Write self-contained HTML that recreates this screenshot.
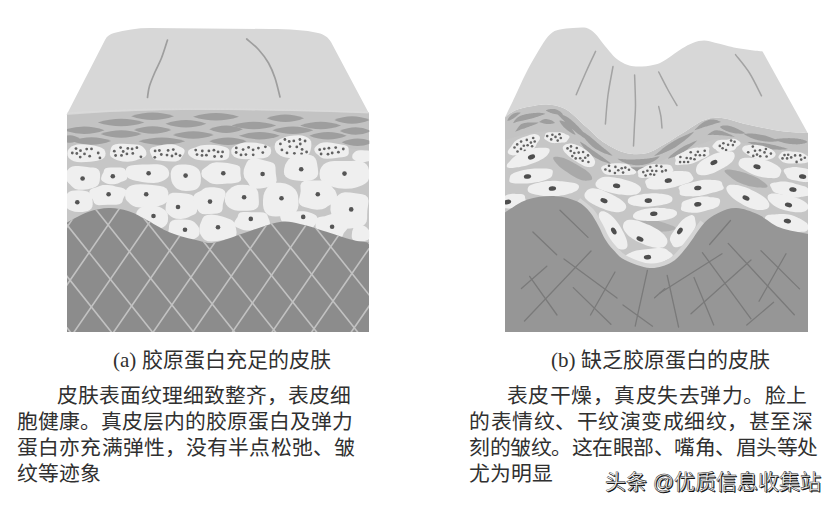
<!DOCTYPE html>
<html lang="zh-CN"><head><meta charset="utf-8"><title>skin</title>
<style>
html,body{margin:0;padding:0;background:#fff;}
body{width:837px;height:508px;position:relative;overflow:hidden;font-family:"Liberation Serif",serif;color:#303030;}
svg{position:absolute;left:0;top:0;filter:blur(0.45px);}
.t{position:absolute;white-space:nowrap;font-size:20.8px;line-height:26px;}
.cap{position:absolute;white-space:nowrap;font-size:21px;line-height:26px;}
.j{text-align:justify;text-align-last:justify;}
.wm{position:absolute;white-space:nowrap;font-family:"Liberation Sans",sans-serif;font-size:21px;color:#fff;line-height:24px;-webkit-text-stroke:0.45px #222;text-shadow:0.8px 0.9px 0.6px #111;}
</style></head><body>
<svg width="837" height="508" viewBox="0 0 837 508">
<defs>
<clipPath id="ca"><path d="M67,114.2 C100,111.3 150,109.3 200,109.3 C250,109.3 300,110.3 369.3,112.8 L369.3,332 L67,332Z"/></clipPath>
<clipPath id="cda"><path d="M66,332 L66,223  C69.7,221.2 80.8,214.5 88,212 C95.2,209.5 102.3,208.2 109,208 C115.7,207.8 122,209.2 128,211 C134,212.8 138,215.4 145,219 C152,222.6 161.2,228.9 170,232.5 C178.8,236.1 190.5,238.8 198,240.5 C205.5,242.2 206.3,244.1 215,242.5 C223.7,240.9 239.2,234.4 250,231 C260.8,227.6 271.7,223.2 280,222 C288.3,220.8 292.8,222.6 300,224 C307.2,225.4 314.2,228 323,230.7 C331.8,233.4 345.3,238 353,240 C360.7,242 366.3,242.1 369,242.5 L369,332 Z"/></clipPath>
</defs>
<g clip-path="url(#ca)">
<rect x="66.5" y="107" width="302.5" height="225" fill="#c6c6c6"/>
<path d="M66,107 L369,107 L369,150 C330,148 300,140 270,146 C240,150 200,150 150,150 L66,150 Z" fill="#c3c3c3"/>
<path d="M131.2,116.3 Q152.6,108.8 174,116.3 Q152.6,123.8 131.2,116.3Z" fill="#9e9e9e"/>
<path d="M193,116.8 Q216,109.3 239,116.8 Q216,124.3 193,116.8Z" fill="#9e9e9e"/>
<path d="M97.8,122.4 Q121.1,114.9 144.4,122.4 Q121.1,129.9 97.8,122.4Z" fill="#9e9e9e"/>
<path d="M165.4,123.7 Q185.9,116.2 206.4,123.7 Q185.9,131.2 165.4,123.7Z" fill="#9e9e9e"/>
<path d="M63.6,130.2 Q84.1,122.7 104.6,130.2 Q84.1,137.7 63.6,130.2Z" fill="#9e9e9e"/>
<path d="M133.9,129.9 Q152.6,122.4 171.3,129.9 Q152.6,137.4 133.9,129.9Z" fill="#9e9e9e"/>
<path d="M100.6,133.9 Q121.1,126.4 141.6,133.9 Q121.1,141.4 100.6,133.9Z" fill="#9e9e9e"/>
<path d="M172.8,134.9 Q193.3,127.4 213.8,134.9 Q193.3,142.4 172.8,134.9Z" fill="#9e9e9e"/>
<path d="M71.9,141 Q91.5,133.5 111.1,141 Q91.5,148.5 71.9,141Z" fill="#9e9e9e"/>
<path d="M138.6,141.3 Q161.9,133.8 185.2,141.3 Q161.9,148.8 138.6,141.3Z" fill="#9e9e9e"/>
<path d="M60,139 Q70,131.5 80,139 Q70,146.5 60,139Z" fill="#9e9e9e"/>
<path d="M266.7,118.2 Q285.4,110.7 304.1,118.2 Q285.4,125.7 266.7,118.2Z" fill="#9e9e9e"/>
<path d="M334.3,120 Q352,112.5 369.7,120 Q352,127.5 334.3,120Z" fill="#9e9e9e"/>
<path d="M231.5,125.6 Q253.9,118.1 276.3,125.6 Q253.9,133.1 231.5,125.6Z" fill="#9e9e9e"/>
<path d="M300.1,125.6 Q320.6,118.1 341.1,125.6 Q320.6,133.1 300.1,125.6Z" fill="#9e9e9e"/>
<path d="M209.3,129.3 Q226.1,121.8 242.9,129.3 Q226.1,136.8 209.3,129.3Z" fill="#9e9e9e"/>
<path d="M272.3,130.2 Q292.8,122.7 313.3,130.2 Q292.8,137.7 272.3,130.2Z" fill="#9e9e9e"/>
<path d="M339.8,131.1 Q355.7,123.6 371.6,131.1 Q355.7,138.6 339.8,131.1Z" fill="#9e9e9e"/>
<path d="M238.9,135.8 Q259.4,128.3 279.9,135.8 Q259.4,143.3 238.9,135.8Z" fill="#9e9e9e"/>
<path d="M309.3,135.8 Q328,128.3 346.7,135.8 Q328,143.3 309.3,135.8Z" fill="#9e9e9e"/>
<path d="M209.3,141.3 Q228,133.8 246.7,141.3 Q228,148.8 209.3,141.3Z" fill="#9e9e9e"/>
<path d="M341.7,142.3 Q357.6,134.8 373.5,142.3 Q357.6,149.8 341.7,142.3Z" fill="#9e9e9e"/>
<path d="M105.5,153.3 L105.3,155.7 L104.3,157.5 L102.6,158.9 L100.1,160 L97.2,160.7 L94,161.2 L90.5,161.7 L85.9,162 L81,162.2 L77,162 L73.8,161.3 L71.3,160.1 L69.6,158.8 L68.4,157.3 L67.6,155.6 L67.4,153.4 L67.7,151.1 L68.5,149.5 L69.8,148 L71.4,146.6 L73.8,145.4 L76.9,144.6 L80.8,144.2 L85.9,144.4 L90.6,144.9 L94,145.5 L96.9,146.2 L99.6,147 L102,148 L103.8,149.3 L105,151Z" fill="#efefef"/>
<path d="M146.4,152.4 L146.4,154.8 L145.3,156.6 L143.1,157.8 L140.5,158.7 L138,159.6 L135.5,160.5 L132.3,161.3 L127.6,161.7 L122.8,161.5 L119.4,160.8 L116.7,159.9 L114.4,158.9 L112.3,157.8 L110.7,156.4 L109.9,154.7 L110,152.4 L110.5,150.2 L110.9,148.5 L111.6,146.8 L113,145.2 L115.6,144.2 L119.1,143.7 L123,143.8 L127.6,144 L132,144.2 L135.4,144.4 L138.6,144.8 L141.2,145.7 L143,147 L144.4,148.4 L145.6,150.1Z" fill="#efefef"/>
<path d="M184.3,152.9 L183.2,154.9 L182.1,156.4 L181.3,157.8 L180.4,159.3 L178.6,160.6 L175.7,161.4 L171.9,161.5 L167.4,161.2 L163.1,160.9 L159.8,160.6 L156.8,160.2 L154.3,159.3 L152.8,158 L152,156.5 L151.3,155 L150.4,152.9 L149.7,150.7 L150.2,148.9 L152,147.5 L154.7,146.7 L157.5,146.1 L160.1,145.5 L163.1,144.8 L167.3,144.2 L172,144.2 L175.3,144.8 L177.8,145.7 L180,146.7 L182.1,147.7 L183.9,149 L184.7,150.7Z" fill="#efefef"/>
<path d="M229.4,153 L229.2,155 L229,156.6 L228.3,158.1 L226.3,159.5 L223.1,160.3 L219.1,160.6 L214.8,160.6 L209.7,160.6 L204.7,160.5 L200.7,160.3 L197.2,159.8 L194.5,158.9 L192.3,157.8 L190.4,156.6 L188.8,155.1 L187.9,153 L188.3,150.8 L190.1,149.3 L192.6,148.2 L195.2,147.4 L197.7,146.5 L200.6,145.6 L204.3,144.9 L209.7,144.7 L215.1,144.9 L219,145.5 L222.2,146.2 L225,147 L227.4,148.1 L228.9,149.4 L229.4,151Z" fill="#efefef"/>
<path d="M271.2,151.1 L270.8,153.2 L270,154.8 L268.5,156.3 L266.3,157.4 L263.3,158.2 L259.8,158.6 L256,158.9 L251.1,159.1 L246.1,159.2 L242,159 L238.5,158.5 L235.7,157.5 L233.7,156.3 L232.4,154.8 L231.5,153.2 L231.2,151.1 L231.6,148.9 L232.7,147.4 L234.5,146.1 L236.6,145 L239,144 L242,143.1 L245.8,142.6 L251.1,142.4 L256.2,142.8 L259.9,143.4 L262.9,144.1 L265.7,144.9 L268.1,146 L269.9,147.3 L270.9,148.9Z" fill="#efefef"/>
<path d="M311.2,146.9 L310.7,149.7 L310,151.9 L309,153.9 L307.4,155.7 L305.1,157.1 L302,158 L298.3,158.3 L293.7,158.3 L289.2,158.1 L285.7,157.5 L282.8,156.7 L280.2,155.5 L278.1,154 L276.4,152.2 L275.2,150 L274.6,146.9 L275,143.8 L276.4,141.6 L278.5,139.9 L280.9,138.7 L283.4,137.7 L286.1,136.7 L289.2,135.9 L293.7,135.4 L298.4,135.2 L302.1,135.6 L305.3,136.5 L307.9,137.8 L309.9,139.5 L311.1,141.6 L311.4,143.9Z" fill="#efefef"/>
<path d="M348.7,150.6 L348.8,152.7 L348.5,154.3 L347.3,155.7 L345,156.7 L342,157.3 L339,157.6 L335.9,158.1 L331.7,158.6 L327,158.8 L323.5,158.4 L321,157.5 L319.5,156.2 L318.3,155 L316.9,153.9 L315.4,152.6 L314.4,150.6 L314.4,148.5 L315.4,147 L316.7,145.7 L318.2,144.4 L320.2,143.2 L323.1,142.4 L327,142.3 L331.6,142.8 L335.6,143.5 L338.4,144.1 L341.2,144.4 L344.1,144.9 L346.6,145.7 L348.1,147 L348.6,148.6Z" fill="#efefef"/>
<path d="M372.2,156.1 L372.2,157.7 L372,158.9 L371.2,159.9 L370,160.7 L368.4,161.2 L366.8,161.6 L365,162.1 L362.5,162.3 L359.8,162.3 L357.9,161.9 L356.4,161.3 L355.2,160.5 L354.1,159.8 L353,158.9 L352.3,157.8 L352.2,156.2 L352.6,154.6 L353.4,153.5 L354.3,152.6 L355.1,151.7 L356.3,150.9 L357.9,150.4 L359.9,150.2 L362.5,150.2 L365,150.4 L367,150.5 L368.8,150.8 L370.4,151.4 L371.4,152.3 L371.9,153.4 L372,154.6Z" fill="#efefef"/>
<g fill="#626262"><circle cx="84.5" cy="153.9" r="1.4"/><circle cx="98.2" cy="153" r="1.4"/><circle cx="76.8" cy="153.5" r="1.4"/><circle cx="89.7" cy="156.2" r="1.4"/><circle cx="91.5" cy="148.9" r="1.4"/><circle cx="99.9" cy="157.9" r="1.4"/><circle cx="76" cy="148.6" r="1.4"/><circle cx="86.7" cy="149.1" r="1.4"/><circle cx="72.3" cy="153" r="1.4"/><circle cx="80.5" cy="150.7" r="1.4"/><circle cx="80.2" cy="157.1" r="1.4"/><circle cx="126.9" cy="153.9" r="1.4"/><circle cx="132.1" cy="148.9" r="1.4"/><circle cx="114.3" cy="151.2" r="1.4"/><circle cx="121.5" cy="155.4" r="1.4"/><circle cx="132.8" cy="153.4" r="1.4"/><circle cx="115.6" cy="155.5" r="1.4"/><circle cx="123.2" cy="151.5" r="1.4"/><circle cx="136.9" cy="147.7" r="1.4"/><circle cx="127.8" cy="148.4" r="1.4"/><circle cx="140.9" cy="156.8" r="1.4"/><circle cx="120.6" cy="147.6" r="1.4"/><circle cx="161.3" cy="154.5" r="1.4"/><circle cx="172" cy="156" r="1.4"/><circle cx="159.4" cy="150.5" r="1.4"/><circle cx="173.3" cy="149.6" r="1.4"/><circle cx="168.1" cy="150.4" r="1.4"/><circle cx="175.9" cy="153.9" r="1.4"/><circle cx="155.1" cy="150.9" r="1.4"/><circle cx="167" cy="155.1" r="1.4"/><circle cx="154.8" cy="157.3" r="1.4"/><circle cx="180" cy="155.6" r="1.4"/><circle cx="197" cy="154.6" r="1.4"/><circle cx="214.6" cy="156.5" r="1.4"/><circle cx="202.3" cy="151" r="1.4"/><circle cx="206.4" cy="155.2" r="1.4"/><circle cx="222.6" cy="151.9" r="1.4"/><circle cx="202" cy="155.4" r="1.4"/><circle cx="213.9" cy="150.2" r="1.4"/><circle cx="208.9" cy="150.9" r="1.4"/><circle cx="221.5" cy="156.5" r="1.4"/><circle cx="195.7" cy="150.1" r="1.4"/><circle cx="218.1" cy="151.9" r="1.4"/><circle cx="265.4" cy="146.8" r="1.4"/><circle cx="258.4" cy="148.1" r="1.4"/><circle cx="262.8" cy="152.6" r="1.4"/><circle cx="243.1" cy="149.6" r="1.4"/><circle cx="248.6" cy="147.4" r="1.4"/><circle cx="253.1" cy="149.8" r="1.4"/><circle cx="253.2" cy="154.8" r="1.4"/><circle cx="236.3" cy="147.9" r="1.4"/><circle cx="241" cy="154.9" r="1.4"/><circle cx="236.2" cy="152.5" r="1.4"/><circle cx="245.9" cy="154.6" r="1.4"/><circle cx="289.9" cy="146.6" r="1.4"/><circle cx="280.4" cy="143.9" r="1.4"/><circle cx="289.2" cy="141.5" r="1.4"/><circle cx="300.3" cy="144" r="1.4"/><circle cx="301.6" cy="153.8" r="1.4"/><circle cx="287" cy="152.9" r="1.4"/><circle cx="302.1" cy="149.4" r="1.4"/><circle cx="306.6" cy="152" r="1.4"/><circle cx="281.9" cy="149.9" r="1.4"/><circle cx="299.9" cy="139.5" r="1.4"/><circle cx="296.8" cy="146.9" r="1.4"/><circle cx="305.1" cy="141" r="1.4"/><circle cx="284.9" cy="139.5" r="1.4"/><circle cx="294.4" cy="153.3" r="1.4"/><circle cx="293.8" cy="140.9" r="1.4"/><circle cx="332.2" cy="153" r="1.4"/><circle cx="343.3" cy="149" r="1.4"/><circle cx="338.4" cy="152.2" r="1.4"/><circle cx="335.7" cy="147.6" r="1.4"/><circle cx="319.7" cy="149.7" r="1.4"/><circle cx="321.1" cy="154" r="1.4"/><circle cx="328" cy="154.2" r="1.4"/><circle cx="328.9" cy="148.2" r="1.4"/><circle cx="324.3" cy="148.8" r="1.4"/></g>
<path d="M100,177.6 L99.7,181 L99,183.4 L97.7,185.4 L95.8,186.8 L93.4,187.8 L90.8,188.5 L87.8,189.2 L83.2,189.8 L78.3,189.8 L75.2,189 L73.1,187.6 L71.5,186.1 L70.1,184.5 L68.5,183 L66.9,181 L65.8,177.6 L65.7,173.9 L66.5,171.4 L68,169.4 L69.8,167.8 L72.2,166.6 L75.2,166 L78.6,166.1 L83.1,166.6 L87.3,167.1 L90.2,167.4 L93.1,167.6 L96,168.1 L98.3,169.4 L99.6,171.4 L100.1,174Z" fill="#efefef"/>
<path d="M127.1,175.6 L127.2,177.9 L126.5,179.5 L125,180.5 L123.2,181.2 L121.5,181.8 L119.9,182.6 L117.9,183.6 L114.2,184.2 L110.1,184.3 L107.4,183.8 L105.4,183 L103.7,182.1 L102.2,181 L101.2,179.7 L101.1,177.9 L101.8,175.6 L102.8,173.6 L103.5,172.2 L103.8,170.9 L104.3,169.5 L105.6,168.3 L107.7,167.7 L110.4,167.5 L114.1,167.5 L117.9,167.5 L120.7,167.6 L123.1,168 L124.8,169 L125.7,170.3 L126.2,171.8 L126.6,173.4Z" fill="#efefef"/>
<path d="M169.2,173.2 L168.8,176 L167.5,177.8 L165.7,179.2 L163.6,180.5 L161.3,181.6 L158.1,182.6 L153.8,183 L147.7,182.7 L142,182.1 L138.6,181.3 L135.6,180.7 L132.7,180 L130,179.1 L127.8,177.8 L126.5,175.9 L125.9,173.2 L125.8,170.3 L126.3,168.2 L127.9,166.5 L130.8,165.4 L134.4,164.9 L138.3,164.7 L142.3,164.6 L147.6,164.4 L153.3,164.2 L157.5,164.2 L161,164.8 L163.7,165.8 L165.7,167.1 L167.4,168.6 L168.6,170.4Z" fill="#efefef"/>
<path d="M200.9,177.6 L200.8,181.3 L200.4,183.9 L199.5,186.1 L198,188 L195.9,189.4 L193.4,190.3 L190.3,190.8 L185.9,190.9 L181.6,190.5 L178.8,189.6 L176.7,188.4 L175,186.9 L173.7,185.3 L172.5,183.4 L171.5,181.1 L170.9,177.6 L170.7,173.8 L171.1,171.1 L172.1,168.8 L173.6,167 L175.7,165.6 L178.4,164.7 L181.5,164.4 L185.9,164.6 L190.1,165.1 L192.8,165.8 L195,166.8 L197,168 L198.6,169.5 L199.8,171.5 L200.5,173.9Z" fill="#efefef"/>
<path d="M240.4,173.5 L240.8,176.4 L241.2,178.8 L240.6,180.8 L238.4,182.3 L235,183.1 L231.3,183.4 L227.5,183.6 L222.2,184 L216.5,184.2 L212.6,183.8 L209.8,182.7 L207.8,181.3 L206,179.9 L204,178.5 L202.1,176.7 L201.3,173.5 L202,170.3 L203.9,168.5 L206,167.1 L207.8,165.7 L209.6,164.2 L212.3,162.9 L216.2,162.3 L222.1,162.5 L227.6,163.1 L231.2,163.8 L234.5,164.4 L237.4,165.2 L239.6,166.5 L240.4,168.4 L240.4,170.6Z" fill="#efefef"/>
<path d="M275.8,173.6 L276.4,177.4 L276.7,180.5 L275.9,183.1 L273.9,184.9 L271.2,186 L268.4,186.8 L265.2,187.8 L260.3,188.6 L255,188.7 L251.6,187.6 L249.6,185.6 L248.4,183.3 L247.3,181.4 L245.8,179.7 L244.3,177.4 L243.5,173.6 L243.8,169.7 L244.7,167.1 L245.7,164.8 L246.7,162.4 L248.3,160.2 L251.1,158.7 L255,158.5 L260.2,159.3 L264.8,160.5 L267.8,161.3 L270.6,161.9 L273.2,162.9 L274.9,164.7 L275.5,167.2 L275.6,169.9Z" fill="#efefef"/>
<path d="M317.8,168.2 L318.1,171.5 L318.1,174 L317.3,176.3 L315.8,178.1 L313.5,179.6 L310.5,180.5 L306.9,180.9 L301.6,181 L296.5,180.6 L293,180 L290.1,179.2 L287.6,178 L285.6,176.4 L284.3,174.3 L283.9,171.8 L284.3,168.2 L285.1,164.9 L286.3,162.8 L287.5,161 L288.8,159.3 L290.5,157.7 L292.9,156.2 L296.1,155 L301.6,154.4 L307.3,154.4 L311.1,155.2 L313.8,156.6 L315.4,158.5 L316.4,160.6 L316.9,162.8 L317.3,165Z" fill="#efefef"/>
<path d="M369.4,174.1 L369.1,178.3 L367.9,181.2 L365.7,183.3 L362.8,185 L359.7,186.3 L356.1,187.5 L351.7,188.4 L345,188.7 L338.3,188.2 L334,187.2 L330.7,185.9 L327.6,184.6 L324.6,183.2 L321.9,181.2 L320.1,178.5 L319.5,174.1 L320.1,169.7 L321.5,166.9 L323.5,164.5 L326.3,162.7 L329.9,161.6 L334.1,161.1 L338.7,161 L344.9,161 L351.2,160.9 L356.1,160.8 L360.5,161.2 L364.1,162.4 L366.6,164.4 L368.2,166.9 L369,169.9Z" fill="#efefef"/>
<path d="M92.6,201.2 L92.7,204.3 L92.4,206.6 L91.4,208.5 L89.8,209.9 L87.8,210.9 L85.4,211.5 L82.6,211.9 L78.7,212 L74.8,211.7 L72.3,211.1 L70.2,210.3 L68.4,209.3 L66.7,208.1 L65.3,206.5 L64.3,204.4 L64,201.2 L64.5,197.9 L65.3,195.8 L66.5,194.1 L68,192.7 L69.8,191.5 L72,190.8 L74.8,190.4 L78.7,190.3 L82.6,190.5 L85.3,190.9 L87.6,191.6 L89.4,192.7 L90.8,194.2 L91.6,196 L92.2,198.1Z" fill="#efefef"/>
<path d="M125.1,195.2 L123.7,197.8 L122.9,199.6 L122.5,201.4 L121.5,203.1 L119.3,204.2 L116.1,204.7 L112.5,204.7 L107.8,204.8 L102.7,205.1 L98.9,205.2 L95.9,204.5 L94.2,203 L93.5,201.2 L92.9,199.5 L91.6,197.9 L90,195.2 L89.2,192.1 L90,190 L92.2,188.6 L94.8,187.8 L97.2,186.9 L99.6,186 L102.7,185.1 L107.7,185 L112.6,185.5 L115.5,186.4 L118.1,187.1 L121,187.6 L123.9,188.4 L125.9,189.9 L126.2,192.1Z" fill="#efefef"/>
<path d="M168.4,195.7 L168.2,199 L167.3,201.2 L165.6,203 L163.2,204.4 L160.3,205.5 L156.9,206.4 L152.9,207.2 L146.7,207.7 L140.1,207.6 L135.8,206.9 L132.8,205.7 L130.5,204.2 L128.7,202.6 L127.1,200.9 L125.7,198.9 L125.1,195.7 L125.2,192.4 L125.9,190.2 L127.3,188.2 L129.2,186.5 L132,185.2 L135.7,184.4 L140.4,184.2 L146.6,184.5 L152.5,185 L156.6,185.4 L160.2,186 L163.5,186.8 L166,188.2 L167.5,190.1 L168.3,192.4Z" fill="#efefef"/>
<path d="M196.7,205.7 L197.2,209.3 L196.8,211.9 L195.3,213.9 L193.1,215.1 L190.8,216.1 L188.5,217.2 L185.7,218.3 L181.1,219 L176.2,218.8 L173.2,217.8 L171,216.4 L169.2,215 L167.5,213.5 L166.1,211.6 L165.5,209.2 L165.8,205.7 L166.5,202.3 L167.1,200.1 L167.5,197.8 L168.2,195.6 L169.9,193.7 L172.7,192.8 L176.3,192.7 L181,193.1 L185.5,193.6 L188.6,194 L191.3,194.7 L193.3,196 L194.5,197.9 L195.2,200 L195.9,202.3Z" fill="#efefef"/>
<path d="M223.8,200.7 L222.9,204 L222.7,206.5 L222.6,209 L221.8,211.2 L219.9,212.8 L217.2,213.5 L214.1,213.8 L209.9,214 L205.4,214.2 L202.3,213.9 L199.9,212.7 L198.3,210.9 L197.1,209 L195.8,207 L194.2,204.7 L193.1,200.7 L193.3,196.5 L194.9,194 L197.3,192.5 L199.5,191.6 L201.4,190.5 L203.2,189 L205.6,187.8 L209.8,187.2 L214.2,187.3 L217.3,187.7 L220.1,188.3 L222.8,189.2 L224.8,191 L225.6,193.6 L225,196.8Z" fill="#efefef"/>
<path d="M258.7,198.2 L258.9,201.8 L258.8,204.5 L258,206.9 L256.2,208.7 L253.7,209.9 L250.7,210.5 L247.3,210.7 L242.6,210.8 L237.9,210.7 L234.6,210.2 L232,209.3 L229.7,208 L227.8,206.5 L226.2,204.6 L225.1,202.1 L224.8,198.2 L225.5,194.4 L226.9,192.1 L228.5,190.3 L230.2,188.7 L232.1,187.3 L234.5,186 L237.6,185.1 L242.5,184.8 L247.5,185.1 L250.8,185.7 L253.5,186.7 L255.7,188.1 L257.2,190 L258.1,192.2 L258.5,194.7Z" fill="#efefef"/>
<path d="M298.5,200.2 L298.5,205.3 L297.8,208.8 L296.3,211.5 L294.1,213.5 L291.3,214.7 L288.3,215.3 L285.1,215.8 L280.5,216.2 L275.6,216.5 L272.1,216.3 L269,215.4 L266.6,213.7 L264.8,211.4 L263.6,208.5 L263,205.1 L263,200.2 L263.5,195.4 L264.5,192.3 L265.8,189.7 L267.3,187.4 L269.3,185.3 L271.8,183.7 L275.3,182.8 L280.4,182.8 L285.4,183.5 L288.5,184.7 L291,186.1 L293.3,187.7 L295.2,189.6 L296.8,192.1 L297.9,195.3Z" fill="#efefef"/>
<path d="M336.9,194.8 L337,199.3 L335.3,202.1 L332.6,203.8 L329.9,205 L327.7,206.3 L325.4,208 L322.2,209.3 L316.9,209.7 L311.6,209.1 L308.2,208.1 L305.2,207.2 L302.2,206.2 L299.8,204.6 L298.7,202 L299.1,198.8 L300.1,194.8 L300.7,191.1 L300.5,188.3 L300.4,185.3 L301.5,182.7 L304.1,181.1 L307.7,180.6 L311.6,180.6 L316.8,180.6 L322.1,180.6 L325.8,181 L328.5,182.3 L330.3,184.2 L331.6,186.3 L333.1,188.3 L335.2,190.6Z" fill="#efefef"/>
<path d="M367.4,210.1 L367.1,214.8 L367.1,218.3 L366.6,221.7 L365,224.3 L362.3,225.9 L359.1,226.9 L355.6,227.7 L350.3,228.5 L344.8,228.7 L341.1,227.6 L338.7,225.4 L337.2,222.8 L335.7,220.4 L333.8,218.2 L331.7,215.3 L330.4,210.1 L330.7,204.5 L332.3,201.2 L334.5,198.8 L336.6,196.8 L338.7,194.7 L341.4,193.1 L345,192.3 L350.3,192.6 L355.3,193.3 L358.8,193.8 L362.2,194.3 L365.5,195.3 L367.8,197.6 L368.6,201 L368.1,205.1Z" fill="#efefef"/>
<path d="M168.1,217.8 L167.8,221.4 L166.9,223.7 L165.5,225.6 L163.7,227 L161.5,228.1 L159,228.9 L155.9,229.3 L151.6,229.5 L147.1,229.5 L143.9,229.3 L141.1,228.6 L138.9,227.4 L137.3,225.7 L136.4,223.6 L136,221.2 L135.9,217.9 L136.1,214.5 L136.6,212.1 L137.7,210.2 L139.3,208.6 L141.3,207.3 L143.8,206.4 L146.9,205.8 L151.5,205.7 L156.1,206 L159,206.8 L161.3,207.8 L163.3,209 L165.1,210.3 L166.7,212.1 L167.7,214.3Z" fill="#efefef"/>
<path d="M199.6,230.7 L199.5,234 L198.5,236.1 L196.7,237.6 L194.7,238.7 L192.6,239.7 L190.4,240.7 L187.6,241.5 L183.1,241.9 L178.4,241.9 L175.1,241.5 L172.4,240.7 L170.2,239.6 L168.6,238 L167.9,236 L168,233.7 L168.5,230.7 L168.9,227.9 L169.1,225.8 L169.5,223.8 L170.4,222 L172.3,220.6 L175,219.7 L178.3,219.4 L183,219.4 L187.7,219.7 L190.7,220.3 L193,221.3 L194.8,222.6 L196.2,224.1 L197.5,225.6 L198.8,227.6Z" fill="#efefef"/>
<path d="M236,228.5 L236.6,232.3 L236.3,235.1 L234.7,237.2 L232,238.5 L228.7,239.2 L225.5,239.6 L222.3,240.3 L217.3,241.1 L211.7,241.6 L207.8,241.2 L204.9,240 L203,238.2 L201.6,236.3 L200.4,234.3 L199.5,232 L199.4,228.5 L199.9,225.1 L200.8,222.8 L201.6,220.7 L202.5,218.4 L204.1,216.3 L207.1,214.9 L211.3,214.6 L217.2,215.3 L222.3,216.5 L225.4,217.6 L228,218.5 L230.6,219.4 L232.7,220.8 L234.2,222.6 L235.2,225Z" fill="#efefef"/>
<path d="M269.5,220.8 L270,223.6 L269.2,225.4 L266.8,226.6 L263.9,227.1 L261.4,227.6 L259.2,228.4 L256.6,229.5 L251.9,230.4 L246.5,230.5 L243.1,229.9 L240.5,228.9 L238.2,227.9 L236,226.9 L234.2,225.5 L233.9,223.6 L234.9,220.9 L236.5,218.5 L237.6,217.1 L238,215.6 L238.5,213.9 L240.1,212.5 L243.1,211.9 L246.9,211.9 L251.8,212.2 L256.6,212.3 L260.2,212.2 L263.6,212.5 L266,213.5 L267.3,215 L267.8,216.6 L268.5,218.3Z" fill="#efefef"/>
<path d="M317.2,219.9 L316.4,222.5 L315.3,224.2 L314.3,225.7 L313.2,227.2 L311.2,228.5 L308.2,229.2 L304.3,229.2 L299.2,228.8 L294.5,228.3 L291.5,227.8 L288.8,227.3 L286.6,226.5 L285,225.3 L283.7,224 L282.5,222.4 L281.1,219.9 L280.2,217 L280.4,214.9 L282.2,213.4 L285,212.5 L288.1,212.1 L291.2,211.8 L294.5,211.4 L299.1,211.2 L303.9,211.3 L307.1,211.7 L309.6,212.5 L311.9,213.3 L314.1,214.2 L316.1,215.4 L317.2,217.2Z" fill="#efefef"/>
<path d="M348.4,226.3 L346.8,229.6 L345.1,231.5 L343.8,233.1 L343,234.9 L342,237 L339.9,238.7 L336.6,239.4 L331.7,239.2 L327,238.6 L323.8,238 L320.9,237.5 L318.3,236.5 L316.6,234.7 L315.9,232.4 L315.8,229.8 L315.6,226.3 L315.4,222.7 L315.6,220.1 L317,218.1 L319.5,217 L322.3,216.6 L324.9,216.2 L327.5,215.3 L331.6,214.1 L336.6,213.2 L340.3,213.4 L343.1,214.5 L345.1,216.1 L346.8,217.9 L348.2,219.9 L348.9,222.5Z" fill="#efefef"/>
<path d="M370,233.7 L370.1,236.1 L369.7,237.8 L368.9,239 L367.7,240 L366.3,240.5 L364.8,240.9 L363.1,241.1 L360.7,241.2 L358.2,241.3 L356.3,241.2 L354.7,240.9 L353.3,240.2 L352.4,239.1 L351.9,237.6 L351.7,235.9 L351.9,233.7 L352.2,231.5 L352.6,230 L353.1,228.7 L353.8,227.5 L354.7,226.5 L356.1,225.7 L357.9,225.2 L360.6,225.2 L363.3,225.5 L364.9,226.2 L366.1,227 L367.1,227.9 L368,228.9 L368.8,230 L369.6,231.4Z" fill="#efefef"/>
<g fill="#555"><circle cx="82.6" cy="178.5" r="2.3"/><circle cx="112.8" cy="176.2" r="2.3"/><circle cx="148.6" cy="173.2" r="2.3"/><circle cx="185.6" cy="175.6" r="2.3"/><circle cx="223.3" cy="173.2" r="2.3"/><circle cx="262.6" cy="174" r="2.3"/><circle cx="301.2" cy="169.3" r="2.3"/><circle cx="344.5" cy="173.6" r="2.3"/><circle cx="77.3" cy="202.2" r="2.3"/><circle cx="108.6" cy="194.3" r="2.3"/><circle cx="146.2" cy="194.3" r="2.3"/><circle cx="178" cy="207" r="2.3"/><circle cx="210" cy="201.6" r="2.3"/><circle cx="244.1" cy="197.2" r="2.3"/><circle cx="281.5" cy="198.2" r="2.3"/><circle cx="317.8" cy="194.3" r="2.3"/><circle cx="351.2" cy="209.4" r="2.3"/><circle cx="153.5" cy="216" r="2.3"/><circle cx="185" cy="229.7" r="2.3"/><circle cx="218" cy="227.2" r="2.3"/><circle cx="250.8" cy="218.9" r="2.3"/><circle cx="303.2" cy="216.9" r="2.3"/><circle cx="332.1" cy="226.8" r="2.3"/></g>
<path d="M66,332 L66,223  C69.7,221.2 80.8,214.5 88,212 C95.2,209.5 102.3,208.2 109,208 C115.7,207.8 122,209.2 128,211 C134,212.8 138,215.4 145,219 C152,222.6 161.2,228.9 170,232.5 C178.8,236.1 190.5,238.8 198,240.5 C205.5,242.2 206.3,244.1 215,242.5 C223.7,240.9 239.2,234.4 250,231 C260.8,227.6 271.7,223.2 280,222 C288.3,220.8 292.8,222.6 300,224 C307.2,225.4 314.2,228 323,230.7 C331.8,233.4 345.3,238 353,240 C360.7,242 366.3,242.1 369,242.5 L369,332 Z" fill="#8c8c8c"/>
<g clip-path="url(#cda)" stroke="#c2c2c2" stroke-width="1.6" fill="none">
<line x1="-125" y1="190" x2="-5.4" y2="340"/>
<line x1="-83.9" y1="190" x2="35.6" y2="340"/>
<line x1="-42.9" y1="190" x2="76.7" y2="340"/>
<line x1="-1.8" y1="190" x2="117.7" y2="340"/>
<line x1="39.2" y1="190" x2="158.8" y2="340"/>
<line x1="80.3" y1="190" x2="199.8" y2="340"/>
<line x1="121.3" y1="190" x2="240.9" y2="340"/>
<line x1="162.4" y1="190" x2="281.9" y2="340"/>
<line x1="203.4" y1="190" x2="323" y2="340"/>
<line x1="244.5" y1="190" x2="364" y2="340"/>
<line x1="285.5" y1="190" x2="405.1" y2="340"/>
<line x1="326.6" y1="190" x2="446.1" y2="340"/>
<line x1="367.6" y1="190" x2="487.2" y2="340"/>
<line x1="52.9" y1="190" x2="-50.2" y2="340"/>
<line x1="92.5" y1="190" x2="-10.6" y2="340"/>
<line x1="132.1" y1="190" x2="29" y2="340"/>
<line x1="171.7" y1="190" x2="68.6" y2="340"/>
<line x1="211.3" y1="190" x2="108.2" y2="340"/>
<line x1="250.9" y1="190" x2="147.8" y2="340"/>
<line x1="290.5" y1="190" x2="187.4" y2="340"/>
<line x1="330.1" y1="190" x2="227" y2="340"/>
<line x1="369.7" y1="190" x2="266.6" y2="340"/>
<line x1="409.3" y1="190" x2="306.2" y2="340"/>
<line x1="448.9" y1="190" x2="345.8" y2="340"/>
<line x1="488.5" y1="190" x2="385.4" y2="340"/>
<line x1="528.1" y1="190" x2="425" y2="340"/>
<line x1="567.7" y1="190" x2="464.6" y2="340"/>
</g>
</g>
<path d="M66.5,115 L105,40 C107,36 110,34 114,33 C125,30 137,28 150,28 L270,29 C290,29 305,30 318,33 C324,34.5 328,37 331,42 L369,113.5 C300,111 250,110 200,110 C150,110 100,112 66.5,115 Z" fill="#d7d7d7"/>
<path d="M67.5,113.3 C100,110.8 150,109 200,109 C250,109 300,110 368,112.3" stroke="#dadada" stroke-width="1.4" fill="none"/>
<path d="M167.5,40 C166.5,43 163.6,52.7 161.5,58 C159.4,63.3 157,67.3 155,72 C153,76.7 150.8,81.8 149.5,86 C148.2,90.2 147.8,95.6 147.5,97.5" stroke="#9e9e9e" stroke-width="1.7" fill="none" stroke-linecap="round"/>
<path d="M246.7,39 C248.7,40.8 254.9,45.5 258.5,49.5 C262.1,53.5 265.8,58.2 268.5,63 C271.2,67.8 273.1,72.3 275,78 C276.9,83.7 279.2,93.8 280,97" stroke="#9e9e9e" stroke-width="1.7" fill="none" stroke-linecap="round"/>
<defs><clipPath id="cdb"><path d="M505,332 L505,212.5  C508.8,210.3 519.1,202.2 527.5,199.5 C535.9,196.8 547.3,195.8 555.6,196.2 C563.9,196.5 571.5,198.9 577.3,201.6 C583.1,204.3 586.7,208.4 590.2,212.5 C593.7,216.6 596,221.6 598.5,226 C601,230.4 602.6,235.1 605,239 C607.4,242.9 609.7,246 613,249.5 C616.3,253 618.8,256.9 625,260 C631.2,263.1 642.2,267.6 650,268 C657.8,268.4 665.5,265.8 671.6,262.3 C677.7,258.8 681.4,253.5 686.8,247 C692.2,240.5 698.6,229.1 704,223.3 C709.4,217.6 713.9,215 719.3,212.5 C724.7,210 730.1,207.8 736.6,208.1 C743.1,208.4 751,211.3 758.2,214.6 C765.4,217.8 771.6,224.4 779.9,227.6 C788.2,230.8 803.3,232.9 808,234 L808,332 Z"/></clipPath><clipPath id="cb"><path d="M505,117.5 C506.7,116.3 510.8,112.3 515,110.5 C519.2,108.7 524.7,107.5 530,106.5 C535.3,105.5 541,104 547,104.5 C553,105 559.5,105.8 566,109.5 C572.5,113.2 579.8,121.4 586,126.8 C592.2,132.2 596.5,137.7 603,142 C609.5,146.3 617.8,150.9 625,152.8 C632.2,154.7 639.8,154.7 646.5,153.2 C653.2,151.7 659,147.3 665,144 C671,140.7 676,137.2 682.5,133.3 C689,129.4 697.5,122.8 704,120.3 C710.5,117.8 714.2,117.3 721.4,118 C728.6,118.7 737.6,122.4 747.4,124.6 C757.2,126.8 769.9,129.6 780,131 C790.1,132.4 803.3,132.7 808,133 L808,332 L505,332Z"/></clipPath></defs>
<g clip-path="url(#cb)">
<rect x="505" y="100" width="303" height="232" fill="#c6c6c6"/>
<path d="M505,117.5 C506.7,116.3 510.8,112.3 515,110.5 C519.2,108.7 524.7,107.5 530,106.5 C535.3,105.5 541,104 547,104.5 C553,105 559.5,105.8 566,109.5 C572.5,113.2 579.8,121.4 586,126.8 C592.2,132.2 596.5,137.7 603,142 C609.5,146.3 617.8,150.9 625,152.8 C632.2,154.7 639.8,154.7 646.5,153.2 C653.2,151.7 659,147.3 665,144 C671,140.7 676,137.2 682.5,133.3 C689,129.4 697.5,122.8 704,120.3 C710.5,117.8 714.2,117.3 721.4,118 C728.6,118.7 737.6,122.4 747.4,124.6 C757.2,126.8 769.9,129.6 780,131 C790.1,132.4 803.3,132.7 808,133 L808,153 L770,149 L740,142 L715,139 L695,146 L672,156 L650,166 L625,166 L600,160 L580,150 L560,137 L545,131 L525,134 L505,140Z" fill="#c3c3c3"/>
<path d="M513.1,123.2 L513.3,122.7 L513.5,122.3 L513.8,121.9 L514,121.4 L514.3,121 L514.6,120.6 L514.9,120.2 L515.2,119.9 L515.5,119.5 L515.9,119.1 L516.2,118.8 L516.5,118.5 L516.8,118.1 L517.1,117.9 L517.4,117.6 L517.7,117.4 L518,117.1 L518.3,116.9 L518.7,116.7 L519.1,116.5 L519.5,116.2 L520,116 L520.5,115.8 L521,115.6 L521.5,115.4 L522,115.2 L522.6,115 L523.1,114.9 L523.7,114.7 L524.3,114.5 L524.9,114.4 L525.5,114.3 L526.1,114.1 L526.7,114 L527.4,113.9 L528,113.8 L528.7,113.7 L529.3,113.6 L530,113.5 L530.6,113.4 L531.3,113.3 L532,113.2 L532.7,113.2 L533.4,113.1 L534.1,113 L534.8,113 L535.5,112.9 L536.2,112.9 L536.8,112.8 L537.5,112.8 L538.2,112.8 L538.8,112.8 L539.5,112.8 L540.1,112.8 L540.7,112.9 L541.3,112.9 L541.9,113 L542.5,113.1 L543.1,113.2 L543.6,113.3 L544.2,113.5 L544.7,113.6 L545.3,113.9 L545.3,113.9 L544.7,114.2 L544.2,114.3 L543.7,114.5 L543.2,114.7 L542.6,114.9 L542.1,115.1 L541.6,115.3 L541,115.5 L540.5,115.7 L539.9,115.9 L539.4,116.1 L538.8,116.3 L538.2,116.5 L537.6,116.7 L537,116.9 L536.3,117.1 L535.7,117.3 L535,117.5 L534.3,117.7 L533.7,118 L532.9,118.2 L532.2,118.3 L531.6,118.5 L531,118.7 L530.3,118.8 L529.7,119 L529.1,119.1 L528.5,119.3 L527.9,119.4 L527.3,119.6 L526.7,119.7 L526.2,119.8 L525.6,120 L525.1,120.1 L524.5,120.2 L524,120.3 L523.5,120.4 L523,120.6 L522.5,120.7 L522.1,120.8 L521.6,120.8 L521.2,120.9 L520.8,121 L520.4,121.1 L520.1,121.2 L519.8,121.2 L519.5,121.2 L519.3,121.3 L519,121.3 L518.7,121.4 L518.4,121.5 L518,121.6 L517.6,121.7 L517.2,121.8 L516.8,122 L516.3,122.1 L515.9,122.3 L515.4,122.5 L515,122.6 L514.5,122.8 L514.1,123 L513.6,123.1 L513.1,123.2Z M515.3,131.7 L515.5,131.2 L515.9,130.6 L516.3,130.1 L516.6,129.7 L516.8,129.3 L517.1,128.9 L517.4,128.5 L517.6,128.1 L517.9,127.7 L518.2,127.4 L518.4,127 L518.7,126.7 L519,126.3 L519.2,126 L519.5,125.7 L519.7,125.5 L520,125.2 L520.2,125 L520.4,124.8 L520.6,124.6 L520.8,124.4 L520.9,124.3 L521,124.2 L521.1,124.2 L521.3,124.1 L521.5,123.9 L521.8,123.8 L522.2,123.7 L522.5,123.6 L522.9,123.4 L523.4,123.3 L523.8,123.2 L524.3,123.1 L524.7,123 L525.2,122.9 L525.8,122.8 L526.3,122.8 L526.8,122.7 L527.4,122.6 L528,122.6 L528.6,122.5 L529.2,122.5 L529.8,122.5 L530.4,122.4 L531,122.4 L531.7,122.4 L532.3,122.4 L533,122.4 L533.8,122.4 L534.5,122.4 L535.3,122.4 L536,122.4 L536.7,122.4 L537.4,122.4 L538.1,122.5 L538.8,122.6 L538.8,122.6 L538.1,123 L537.6,123.3 L536.9,123.6 L536.3,123.9 L535.6,124.2 L534.9,124.5 L534.2,124.7 L533.5,125 L532.9,125.2 L532.3,125.5 L531.7,125.7 L531.1,125.9 L530.5,126.1 L530,126.3 L529.4,126.5 L528.9,126.7 L528.4,126.9 L527.9,127.1 L527.4,127.3 L526.9,127.5 L526.5,127.6 L526,127.8 L525.6,128 L525.2,128.1 L524.9,128.2 L524.5,128.4 L524.2,128.5 L523.9,128.6 L523.7,128.7 L523.4,128.7 L523.2,128.8 L523.1,128.8 L523.2,128.8 L523.2,128.7 L523.1,128.7 L523,128.7 L522.9,128.7 L522.7,128.8 L522.4,128.9 L522.2,129 L521.9,129.1 L521.6,129.2 L521.2,129.3 L520.9,129.5 L520.5,129.6 L520.1,129.8 L519.7,130 L519.3,130.2 L518.9,130.3 L518.5,130.5 L518,130.7 L517.5,130.9 L517,131.1 L516.5,131.3 L515.8,131.6 L515.3,131.7Z M539.1,122 L539.7,121.5 L540.2,121.2 L540.7,120.9 L541.2,120.6 L541.7,120.3 L542.1,120.1 L542.6,119.8 L543,119.6 L543.4,119.5 L543.9,119.3 L544.3,119.2 L544.7,119.1 L545,119.1 L545.4,119.1 L545.9,119.1 L546.5,119.1 L547.2,119.2 L547.8,119.3 L548.5,119.4 L549.1,119.5 L549.7,119.7 L550.3,119.9 L550.8,120.1 L551.4,120.3 L551.9,120.5 L552.4,120.8 L552.8,121.1 L553.3,121.4 L553.7,121.7 L554.1,122.1 L554.5,122.5 L555,123.1 L555,123.1 L554.2,123.2 L553.7,123.3 L553.2,123.5 L552.8,123.6 L552.3,123.7 L551.8,123.7 L551.3,123.8 L550.7,123.9 L550.2,123.9 L549.7,124 L549.1,124 L548.5,124 L547.9,124 L547.3,124 L546.7,123.9 L546.1,123.9 L545.5,123.8 L545.2,123.8 L544.9,123.7 L544.6,123.7 L544.3,123.6 L544,123.5 L543.7,123.4 L543.3,123.3 L542.9,123.2 L542.5,123 L542,122.9 L541.5,122.8 L541,122.6 L540.4,122.5 L539.8,122.3 L539.1,122Z M545.8,110.4 L546.6,110 L547.3,109.8 L548.1,109.5 L548.8,109.3 L549.6,109.2 L550.3,109.1 L551.1,109 L551.8,108.9 L552.6,108.9 L553.3,109 L554,109 L554.8,109.1 L555.5,109.3 L556.2,109.5 L556.9,109.8 L557.6,110 L558.3,110.4 L559,110.8 L559.7,111.2 L560.3,111.6 L560.9,112.2 L561.5,112.7 L562,113.3 L562.6,113.9 L563.1,114.8 L563.1,114.8 L562.1,114.7 L561.3,114.7 L560.6,114.7 L559.8,114.6 L559.1,114.6 L558.4,114.5 L557.7,114.4 L557.1,114.4 L556.4,114.3 L555.7,114.2 L555.1,114.1 L554.5,114 L553.8,113.8 L553.2,113.7 L552.5,113.5 L551.9,113.3 L551.2,113.1 L550.6,112.9 L549.9,112.6 L549.2,112.3 L548.5,112 L547.9,111.7 L547.2,111.3 L546.5,110.9 L545.8,110.4Z M557.6,114.5 L558.5,114.4 L559.2,114.4 L559.9,114.4 L560.7,114.5 L561.4,114.6 L562.1,114.8 L562.9,115 L563.6,115.2 L564.3,115.5 L565.1,115.9 L565.9,116.3 L566.7,116.7 L567.6,117.3 L568.4,117.8 L569.3,118.4 L570.1,119.1 L571,119.8 L571.8,120.5 L572.7,121.2 L573.5,122 L574.4,122.7 L575.2,123.5 L576,124.4 L576.9,125.2 L577.7,126 L578.5,126.8 L579.3,127.7 L580,128.5 L580.8,129.3 L581.6,130.2 L582.3,131 L583,131.7 L583.6,132.4 L584.1,133.2 L584.7,134 L585.3,134.7 L585.8,135.5 L586.3,136.3 L586.9,137.1 L587.4,137.9 L587.9,138.8 L588.4,139.6 L588.8,140.5 L588.8,140.5 L587.9,140.1 L587,139.7 L586.1,139.2 L585.3,138.7 L584.5,138.2 L583.7,137.7 L582.9,137.2 L582.1,136.7 L581.4,136.1 L580.6,135.6 L579.9,135.1 L579.1,134.6 L578.2,133.9 L577.2,133.2 L576.3,132.5 L575.4,131.8 L574.5,131 L573.6,130.2 L572.8,129.4 L571.9,128.7 L571.1,127.9 L570.3,127.1 L569.4,126.3 L568.7,125.5 L567.9,124.8 L567.1,124 L566.4,123.3 L565.7,122.6 L565,121.9 L564.4,121.2 L563.8,120.6 L563.2,120 L562.6,119.4 L562.1,118.9 L561.6,118.4 L561.2,117.9 L560.7,117.4 L560.2,117 L559.7,116.5 L559.2,116 L558.7,115.6 L558.2,115.1 L557.6,114.5Z M578.9,129.8 L580,130.3 L581,130.8 L582,131.3 L582.8,131.8 L583.7,132.3 L584.5,132.8 L585.3,133.3 L586.1,133.8 L586.9,134.4 L587.7,134.9 L588.5,135.5 L589.2,136.1 L590,136.6 L590.7,137.2 L591.4,137.8 L592.2,138.4 L592.9,139.1 L593.7,139.7 L594.4,140.3 L595.1,141 L595.9,141.6 L596.6,142.3 L597.4,142.9 L598.2,143.6 L599,144.2 L599.8,144.9 L600.6,145.6 L601.4,146.2 L602.2,146.9 L603,147.5 L603.9,148.2 L604.7,148.9 L605.6,149.6 L606.4,150.3 L607.3,151 L608.2,151.8 L609.1,152.5 L610,153.2 L610.8,154 L611.7,154.7 L612.6,155.6 L612.6,155.6 L611.4,155.4 L610.2,155.2 L609.1,154.9 L608,154.5 L606.9,154.1 L605.8,153.8 L604.7,153.4 L603.6,152.9 L602.6,152.5 L601.5,152 L600.5,151.6 L599.5,151.1 L598.6,150.6 L597.6,150.1 L596.6,149.5 L595.6,148.9 L594.6,148.2 L593.7,147.5 L592.8,146.9 L592,146.2 L591.2,145.5 L590.4,144.8 L589.6,144 L588.9,143.3 L588.2,142.6 L587.6,141.8 L586.9,141.1 L586.3,140.4 L585.7,139.6 L585.1,138.9 L584.6,138.1 L584,137.4 L583.5,136.6 L582.9,135.8 L582.4,135.1 L581.8,134.3 L581.3,133.5 L580.7,132.7 L580.1,131.8 L579.4,130.8 L578.9,129.8Z M579.9,141.6 L580.8,142 L581.6,142.4 L582.4,142.9 L583.3,143.4 L584.1,144 L584.9,144.6 L585.8,145.1 L586.6,145.7 L587.5,146.4 L588.4,147 L589.3,147.7 L590.2,148.3 L591.1,149 L592,149.7 L593,150.4 L594,151.1 L595,151.8 L596,152.5 L596.9,153.1 L597.8,153.7 L598.7,154.4 L599.6,155.1 L600.6,155.7 L601.5,156.4 L602.5,157.1 L603.4,157.8 L604.4,158.6 L605.4,159.3 L606.4,160 L607.4,160.7 L608.4,161.5 L609.4,162.2 L610.5,163 L611.4,163.8 L611.4,163.8 L610.2,163.7 L608.9,163.4 L607.7,163 L606.4,162.6 L605.2,162.2 L604,161.8 L602.9,161.4 L601.7,160.9 L600.6,160.4 L599.5,159.9 L598.4,159.3 L597.3,158.8 L596.3,158.2 L595.3,157.7 L594.3,157.1 L593.3,156.4 L592.2,155.7 L591.2,154.9 L590.1,154.1 L589.1,153.3 L588.2,152.5 L587.3,151.7 L586.5,150.8 L585.7,150 L585,149.1 L584.2,148.3 L583.6,147.5 L582.9,146.6 L582.3,145.8 L581.8,145 L581.2,144.1 L580.7,143.3 L580.3,142.5 L579.9,141.6Z M617.6,158.8 L618.7,158.8 L619.9,158.9 L621.1,159 L622.2,159.1 L623.3,159.2 L624.4,159.3 L625.5,159.3 L626.6,159.4 L627.6,159.4 L628.7,159.4 L629.8,159.4 L630.8,159.4 L631.8,159.4 L632.9,159.4 L633.9,159.4 L634.9,159.4 L635.9,159.3 L636.9,159.3 L637.9,159.3 L638.9,159.2 L639.9,159.2 L640.9,159.1 L641.9,159 L642.8,159 L643.8,158.9 L644.8,158.8 L645.7,158.7 L646.7,158.7 L647.7,158.6 L648.7,158.4 L649.8,158.3 L650.8,158.1 L651.8,157.9 L652.9,157.7 L653.9,157.5 L654.9,157.3 L655.9,157.1 L656.9,156.8 L657.9,156.6 L658.9,156.4 L659.9,156.3 L659.9,156.3 L659.2,157.1 L658.5,157.8 L657.7,158.5 L656.9,159.2 L656,159.8 L655.1,160.4 L654.2,161 L653.2,161.6 L652.1,162.1 L651,162.6 L649.9,163 L648.8,163.4 L647.7,163.8 L646.7,164.1 L645.7,164.3 L644.6,164.6 L643.5,164.8 L642.4,164.9 L641.4,165 L640.3,165.1 L639.2,165.2 L638,165.2 L636.9,165.2 L635.8,165.2 L634.7,165.1 L633.6,165 L632.5,164.8 L631.4,164.6 L630.2,164.4 L629.1,164.1 L628,163.9 L626.9,163.5 L625.9,163.2 L624.8,162.8 L623.7,162.3 L622.7,161.9 L621.6,161.4 L620.5,160.8 L619.5,160.2 L618.5,159.5 L617.6,158.8Z M654.3,155.8 L654.9,155.1 L655.7,154.5 L656.4,153.9 L657.2,153.3 L657.9,152.7 L658.6,152 L659.3,151.5 L660,150.9 L660.7,150.3 L661.4,149.7 L662,149.1 L662.7,148.6 L663.4,148 L664.1,147.5 L664.8,147 L665.4,146.5 L666.1,146 L666.8,145.6 L667.6,145.1 L668.3,144.6 L669,144.1 L669.7,143.7 L670.4,143.2 L671.1,142.8 L671.8,142.3 L672.5,141.9 L673.2,141.5 L673.9,141 L674.7,140.6 L675.4,140.2 L676.1,139.8 L676.9,139.4 L677.6,139 L678.4,138.6 L679.1,138.2 L679.9,137.8 L680.7,137.4 L681.6,137.1 L682.4,136.7 L683.2,136.3 L684.1,135.9 L685,135.5 L686,135.1 L686.9,134.7 L687.9,134.2 L688.9,133.8 L689.9,133.3 L690.9,132.9 L692,132.4 L693,132 L694.1,131.7 L694.1,131.7 L693.4,132.6 L692.6,133.4 L691.8,134.2 L691,134.9 L690.2,135.7 L689.4,136.4 L688.5,137.2 L687.7,137.9 L686.9,138.6 L686.1,139.2 L685.4,139.8 L684.7,140.4 L684,141 L683.3,141.5 L682.6,142.1 L681.9,142.6 L681.2,143.1 L680.5,143.6 L679.9,144.1 L679.2,144.6 L678.5,145.1 L677.8,145.6 L677.1,146.1 L676.4,146.5 L675.7,147 L674.9,147.4 L674.2,147.9 L673.5,148.3 L672.7,148.7 L671.9,149.2 L671.1,149.6 L670.4,150 L669.5,150.3 L668.7,150.7 L668,151 L667.3,151.3 L666.5,151.7 L665.8,152 L665,152.3 L664.2,152.7 L663.3,153 L662.5,153.4 L661.7,153.7 L660.8,154 L659.9,154.4 L659,154.7 L658.1,155 L657.2,155.2 L656.2,155.5 L655.2,155.7 L654.3,155.8Z M667.8,158.6 L668.3,157.9 L668.9,157.3 L669.5,156.7 L670,156.1 L670.6,155.6 L671.2,155.1 L671.9,154.5 L672.6,153.9 L673.3,153.3 L674.1,152.8 L674.8,152.2 L675.5,151.7 L676.2,151.2 L676.9,150.7 L677.6,150.2 L678.3,149.7 L679,149.2 L679.7,148.7 L680.5,148.3 L681.2,147.8 L681.9,147.4 L682.6,146.9 L683.4,146.5 L684.1,146.1 L684.9,145.7 L685.7,145.3 L686.5,145 L687.3,144.6 L688.1,144.2 L689,143.9 L689.9,143.4 L691,143 L692,142.5 L693,142 L694.1,141.6 L695.1,141.2 L696.2,140.7 L697.3,140.4 L697.3,140.4 L696.5,141.3 L695.7,142.1 L694.9,142.9 L694.1,143.7 L693.2,144.4 L692.4,145.2 L691.5,145.9 L690.7,146.6 L689.9,147.2 L689.2,147.8 L688.6,148.3 L687.9,148.9 L687.2,149.4 L686.5,149.9 L685.8,150.4 L685.1,150.9 L684.4,151.4 L683.7,151.9 L683,152.3 L682.3,152.8 L681.5,153.2 L680.8,153.6 L680,154.1 L679.2,154.5 L678.4,154.9 L677.6,155.3 L676.8,155.7 L676,156 L675.1,156.4 L674.2,156.7 L673.3,157.1 L672.5,157.4 L671.7,157.6 L671,157.8 L670.3,158 L669.5,158.2 L668.7,158.5 L667.8,158.6Z M694.5,130.2 L695.2,129.3 L696,128.5 L696.8,127.7 L697.6,126.9 L698.3,126.2 L699.1,125.5 L699.9,124.8 L700.7,124.2 L701.5,123.6 L702.3,123 L703,122.5 L703.8,122.1 L704.5,121.6 L705.3,121.3 L706,120.9 L706.7,120.6 L707.4,120.4 L708.1,120.1 L708.8,119.9 L709.4,119.8 L710.1,119.6 L710.7,119.5 L711.4,119.5 L712,119.4 L712.6,119.4 L713.3,119.5 L713.9,119.6 L714.5,119.7 L715.2,119.8 L715.8,119.9 L716.5,120.1 L717.2,120.3 L717.9,120.6 L718.6,120.9 L719.4,121.2 L720.2,121.5 L721,122 L721,122 L720.1,122.3 L719.3,122.5 L718.5,122.7 L717.8,122.9 L717.1,123.1 L716.5,123.3 L715.9,123.5 L715.3,123.6 L714.8,123.8 L714.2,124 L713.7,124.2 L713.3,124.3 L712.8,124.5 L712.3,124.7 L711.8,124.8 L711.3,125 L710.8,125.1 L710.3,125.3 L709.7,125.5 L709.2,125.6 L708.5,125.8 L707.9,126 L707.2,126.2 L706.4,126.4 L705.7,126.6 L705,126.8 L704.2,127 L703.4,127.3 L702.6,127.6 L701.7,127.9 L700.7,128.2 L699.8,128.5 L698.8,128.9 L697.8,129.2 L696.7,129.6 L695.6,130 L694.5,130.2Z M719.7,126.9 L720.5,126.4 L721.3,126.1 L722.1,125.8 L722.9,125.6 L723.8,125.5 L724.7,125.4 L725.6,125.4 L726.6,125.5 L727.6,125.6 L728.6,125.7 L729.6,125.9 L730.7,126.2 L731.8,126.5 L732.8,126.9 L733.9,127.3 L735,127.7 L736.1,128.2 L737.2,128.7 L738.4,129.3 L739.5,129.9 L740.7,130.5 L741.9,131.1 L743,131.8 L744.3,132.5 L745.4,133.4 L745.4,133.4 L744,133.6 L742.6,133.7 L741.2,133.7 L739.8,133.7 L738.5,133.6 L737.2,133.5 L735.9,133.4 L734.6,133.2 L733.4,133 L732.3,132.8 L731.1,132.5 L730.1,132.3 L729,132 L728,131.6 L727.1,131.3 L726.2,130.9 L725.3,130.5 L724.5,130.1 L723.7,129.7 L723,129.3 L722.3,128.9 L721.6,128.5 L721,128 L720.4,127.5 L719.7,126.9Z M744,134.1 L745.3,133.8 L746.7,133.7 L748,133.6 L749.4,133.6 L750.8,133.6 L752.2,133.6 L753.6,133.7 L755,133.8 L756.4,134 L757.9,134.2 L759.3,134.4 L760.7,134.7 L762.2,135 L763.6,135.3 L765,135.6 L766.5,136 L767.9,136.5 L769.3,136.9 L770.6,137.4 L772,137.9 L773.4,138.4 L774.7,139 L776,139.5 L777.4,140.1 L778.6,140.9 L778.6,140.9 L777.2,141.3 L775.7,141.5 L774.3,141.6 L772.8,141.7 L771.3,141.7 L769.9,141.7 L768.4,141.7 L766.9,141.6 L765.4,141.5 L763.9,141.3 L762.4,141.1 L761,140.8 L759.5,140.5 L758.1,140.2 L756.7,139.8 L755.3,139.4 L753.9,139 L752.6,138.5 L751.2,138 L749.9,137.4 L748.7,136.8 L747.4,136.2 L746.3,135.6 L745.1,134.9 L744,134.1Z M774.7,139.3 L776.1,139 L777.6,138.8 L778.9,138.7 L780.3,138.5 L781.8,138.4 L783.2,138.3 L784.6,138.3 L786,138.2 L787.5,138.2 L788.9,138.1 L790.3,138.2 L791.7,138.2 L793,138.2 L794.4,138.3 L795.7,138.4 L797,138.6 L798.2,138.7 L799.4,138.9 L800.6,139.1 L801.7,139.4 L802.8,139.6 L803.7,139.9 L804.7,140.2 L805.5,140.6 L806.2,141 L806.9,141.4 L807.4,142 L807.4,142 L806.8,142.5 L806.1,142.8 L805.4,143.1 L804.5,143.4 L803.6,143.6 L802.6,143.8 L801.5,144 L800.4,144.1 L799.2,144.3 L798,144.3 L796.7,144.4 L795.4,144.3 L794,144.3 L792.7,144.2 L791.3,144.1 L789.9,143.9 L788.4,143.7 L787,143.5 L785.6,143.2 L784.2,142.9 L782.7,142.5 L781.3,142.1 L779.9,141.7 L778.6,141.2 L777.3,140.6 L776,140 L774.7,139.3Z M707.4,135.2 L708,134.6 L708.5,134.2 L708.8,133.8 L709.3,133.4 L709.8,133.1 L710.3,132.7 L710.8,132.4 L711.3,132.1 L711.7,131.8 L712.1,131.6 L712.5,131.4 L712.8,131.2 L713.1,131 L713.5,130.9 L713.8,130.7 L714.1,130.6 L714.4,130.5 L714.8,130.4 L715.1,130.4 L715.5,130.3 L715.9,130.3 L716.4,130.3 L716.9,130.3 L717.4,130.3 L718,130.4 L718.7,130.5 L719.4,130.6 L720.1,130.7 L720.7,130.8 L721.2,130.9 L721.9,131.1 L722.6,131.3 L723.3,131.6 L724.1,131.9 L724.9,132.2 L725.7,132.5 L726.6,132.9 L727.5,133.3 L728.5,133.7 L729.5,134.2 L730.5,134.6 L731.6,135.1 L732.7,135.7 L733.8,136.2 L734.9,136.8 L734.9,136.8 L733.6,136.7 L732.4,136.6 L731.2,136.4 L730,136.3 L728.9,136.1 L727.9,136 L726.8,135.8 L725.9,135.7 L724.9,135.6 L724,135.5 L723.2,135.4 L722.5,135.3 L721.8,135.2 L721.1,135.2 L720.6,135.2 L720.1,135.2 L719.6,135.2 L719,135.2 L718.3,135.1 L717.7,135.1 L717.2,135.1 L716.8,135.1 L716.3,135.1 L716,135.1 L715.7,135.1 L715.4,135.1 L715.1,135 L714.9,135 L714.7,135 L714.4,134.9 L714.2,134.9 L714,134.9 L713.7,134.8 L713.4,134.8 L713,134.8 L712.6,134.8 L712.2,134.8 L711.7,134.8 L711.1,134.9 L710.5,135 L709.9,135 L709.4,135 L708.9,135.1 L708.3,135.1 L707.4,135.2Z M747.5,142 L748.9,141.9 L750.4,141.9 L751.8,142 L753.2,142 L754.7,142.1 L756.2,142.2 L757.6,142.4 L759.1,142.5 L760.6,142.7 L762.1,142.9 L763.6,143.1 L765,143.3 L766.5,143.6 L768,143.8 L769.4,144.1 L770.9,144.4 L772.3,144.7 L773.7,145 L775.1,145.3 L776.5,145.7 L777.9,146 L779.3,146.4 L780.8,146.8 L782.2,147.2 L783.7,147.5 L785.2,148 L786.6,148.4 L788,148.9 L788,148.9 L786.5,149.2 L785,149.4 L783.5,149.5 L782,149.6 L780.5,149.7 L778.9,149.7 L777.4,149.6 L776,149.6 L774.5,149.5 L773,149.4 L771.6,149.2 L770.1,149 L768.6,148.8 L767.1,148.5 L765.6,148.3 L764.2,147.9 L762.7,147.6 L761.2,147.2 L759.8,146.8 L758.3,146.4 L756.9,145.9 L755.5,145.4 L754.1,145 L752.7,144.4 L751.4,143.9 L750.1,143.3 L748.8,142.7 L747.5,142Z M507.3,120.7 L507.4,120.3 L507.6,119.9 L507.8,119.5 L508,119.1 L508.2,118.7 L508.4,118.3 L508.7,117.9 L509,117.5 L509.3,117.1 L509.6,116.7 L510,116.3 L510.4,115.9 L510.8,115.6 L511.2,115.2 L511.6,114.8 L512.1,114.5 L512.5,114.2 L513,113.9 L513.5,113.6 L514,113.4 L514.5,113.2 L515,113 L515.5,112.9 L516,112.8 L516.5,112.7 L517.1,112.6 L517.6,112.6 L518.2,112.5 L518.8,112.5 L519.4,112.5 L520,112.6 L520.7,112.7 L520.7,112.7 L520.2,113.2 L519.7,113.6 L519.3,113.9 L518.8,114.3 L518.4,114.6 L518,114.9 L517.6,115.3 L517.2,115.5 L516.9,115.8 L516.6,116.1 L516.3,116.4 L515.9,116.6 L515.5,116.9 L515.2,117.2 L514.8,117.5 L514.4,117.8 L514,118.1 L513.5,118.4 L513.1,118.6 L512.7,118.9 L512.2,119.1 L511.8,119.4 L511.3,119.6 L510.9,119.8 L510.5,120 L510,120.2 L509.6,120.4 L509.1,120.5 L508.7,120.6 L508.3,120.7 L507.8,120.8 L507.3,120.7Z M559.3,120.7 L560.2,120.6 L560.9,120.6 L561.7,120.7 L562.4,121 L563.2,121.3 L564,121.6 L564.9,122.1 L565.7,122.6 L566.5,123.2 L567.3,123.8 L568.1,124.5 L568.9,125.3 L569.7,126.1 L570.4,126.9 L571.1,127.8 L571.8,128.7 L572.5,129.7 L573.2,130.7 L573.9,131.7 L574.5,132.7 L575.1,133.8 L575.6,134.9 L575.6,134.9 L574.4,134.5 L573.3,134 L572.2,133.4 L571.2,132.8 L570.2,132.2 L569.2,131.5 L568.2,130.8 L567.3,130.2 L566.5,129.5 L565.6,128.8 L564.9,128.1 L564.1,127.4 L563.4,126.7 L562.8,126 L562.2,125.3 L561.6,124.6 L561.1,124 L560.7,123.3 L560.3,122.7 L560,122.1 L559.7,121.5 L559.3,120.7Z M621.4,167.4 L622.6,167.3 L623.8,167.3 L625.1,167.3 L626.3,167.4 L627.5,167.4 L628.7,167.4 L629.9,167.4 L631.1,167.4 L632.3,167.3 L633.5,167.3 L634.6,167.3 L635.8,167.3 L636.9,167.3 L638.1,167.2 L639.2,167.2 L640.4,167.2 L641.5,167.1 L642.7,167.1 L643.8,167.1 L644.9,167 L646.1,167 L647.2,167 L648.4,166.9 L649.6,166.8 L650.9,166.7 L652.2,166.6 L653.6,166.4 L654.7,166.4 L654.7,166.4 L653.8,167.1 L652.6,167.7 L651.3,168.3 L650,168.8 L648.8,169.3 L647.7,169.7 L646.6,170 L645.4,170.3 L644.2,170.6 L643,170.8 L641.8,171 L640.6,171.1 L639.4,171.2 L638.2,171.2 L637,171.2 L635.7,171.2 L634.5,171.1 L633.3,171 L632,170.8 L630.8,170.6 L629.6,170.4 L628.4,170.1 L627.1,169.8 L625.9,169.4 L624.7,169 L623.6,168.5 L622.4,168 L621.4,167.4Z" fill="#9e9e9e"/>
<path d="M539.7,136.7 C539.9,137.2 540.1,137.8 540,138.3 C540,138.9 539.7,139.5 539.4,140.1 C539.1,140.6 538.6,141.2 538.2,141.8 C537.8,142.3 537.4,142.8 537,143.3 C536.7,143.9 536.5,144.3 536.3,144.9 C536,145.4 535.9,146 535.5,146.6 C535.1,147.2 534.7,147.9 534,148.5 C533.3,149.2 532.4,149.8 531.4,150.4 C530.4,151 529.1,151.6 528,152.1 C526.8,152.5 525.6,152.9 524.6,153.2 C523.6,153.4 522.8,153.6 522,153.8 C521.2,154 520.4,154.2 519.6,154.4 C518.8,154.6 518.1,154.8 517.3,155 C516.5,155.1 515.8,155.3 515.1,155.3 C514.4,155.4 513.7,155.4 513.1,155.4 C512.5,155.3 511.9,155.2 511.3,155.1 C510.7,154.9 510.1,154.8 509.6,154.5 C509.1,154.3 508.6,153.9 508.3,153.5 C507.9,153 507.7,152.5 507.7,151.9 C507.7,151.4 508,150.8 508.3,150.2 C508.6,149.6 509.2,148.9 509.6,148.4 C510.1,147.8 510.7,147.2 511.1,146.7 C511.5,146.2 511.8,145.7 512.2,145.1 C512.5,144.6 512.8,144 513.2,143.5 C513.7,142.9 514.1,142.2 514.8,141.6 C515.5,141 516.3,140.4 517.3,139.8 C518.2,139.2 519.5,138.7 520.6,138.2 C521.7,137.7 522.8,137.3 523.8,137 C524.8,136.7 525.6,136.4 526.4,136.2 C527.3,135.9 528.1,135.6 528.9,135.3 C529.8,135 530.6,134.7 531.4,134.5 C532.2,134.4 533.1,134.2 533.8,134.1 C534.5,134.1 535.2,134.1 535.8,134.2 C536.4,134.3 536.9,134.5 537.4,134.7 C537.9,134.9 538.3,135.2 538.7,135.5 C539.1,135.8 539.5,136.3 539.7,136.7Z" fill="#efefef"/>
<path d="M569,138.2 C568.8,138.5 568.4,138.9 568.2,139.2 C568,139.5 567.8,139.8 567.6,140 C567.4,140.3 567.3,140.7 567.1,140.9 C566.9,141.2 566.7,141.6 566.3,141.8 C566,142 565.4,142.2 564.8,142.4 C564.2,142.5 563.5,142.5 562.8,142.6 C562.1,142.6 561.4,142.6 560.7,142.7 C560,142.7 559.4,142.7 558.7,142.8 C557.9,142.9 557.1,143 556.2,143 C555.3,143.1 554.3,143.2 553.5,143.1 C552.7,143.1 551.8,143 551.2,142.8 C550.5,142.6 549.9,142.4 549.4,142.1 C548.9,141.9 548.5,141.6 548.1,141.3 C547.7,141 547.3,140.8 546.9,140.5 C546.5,140.3 546.1,140.1 545.7,139.8 C545.3,139.5 544.8,139.3 544.6,139 C544.3,138.6 544.2,138.3 544.2,138 C544.1,137.6 544.3,137.2 544.4,136.9 C544.5,136.5 544.8,136.2 544.9,135.8 C545,135.5 545,135.2 545.1,134.9 C545.2,134.6 545.2,134.2 545.3,133.9 C545.5,133.6 545.7,133.2 546.1,132.9 C546.4,132.7 547,132.5 547.7,132.4 C548.3,132.2 549.2,132.2 549.9,132.2 C550.7,132.2 551.5,132.3 552.3,132.3 C553,132.3 553.6,132.3 554.4,132.3 C555.2,132.3 556,132.3 556.8,132.2 C557.6,132.2 558.5,132.2 559.3,132.2 C560.1,132.3 560.9,132.3 561.5,132.5 C562.2,132.6 562.8,132.8 563.4,133.1 C563.9,133.3 564.4,133.5 564.9,133.7 C565.3,134 565.8,134.2 566.3,134.4 C566.8,134.6 567.4,134.8 567.9,135.1 C568.4,135.3 568.9,135.6 569.2,136 C569.4,136.3 569.6,136.6 569.6,137 C569.5,137.4 569.3,137.8 569,138.2Z" fill="#efefef"/>
<path d="M594.5,164.4 C594.3,164.9 593.9,165.3 593.6,165.7 C593.3,166 592.9,166.3 592.5,166.5 C592,166.8 591.5,166.9 590.9,167 C590.4,167.1 589.7,167.2 589,167.1 C588.3,167.1 587.5,166.9 586.7,166.7 C585.9,166.5 585,166.2 584.1,165.9 C583.2,165.5 582.3,165.1 581.4,164.6 C580.5,164.1 579.6,163.6 578.6,163 C577.6,162.5 576.6,161.8 575.6,161.1 C574.6,160.5 573.5,159.8 572.7,159.2 C571.8,158.5 571,157.9 570.2,157.3 C569.4,156.7 568.7,156.1 568,155.5 C567.3,154.9 566.6,154.2 566,153.6 C565.4,153 564.8,152.3 564.3,151.7 C563.8,151 563.4,150.4 563.2,149.8 C562.9,149.2 562.8,148.6 562.7,148.1 C562.7,147.6 562.8,147.1 563.1,146.6 C563.3,146.2 563.7,145.8 564.1,145.4 C564.5,145.1 565,144.8 565.5,144.5 C566,144.3 566.5,144.2 567,144 C567.5,143.9 568,143.8 568.6,143.7 C569.1,143.7 569.7,143.6 570.4,143.6 C571,143.6 571.7,143.7 572.4,143.8 C573.1,143.9 573.9,144.1 574.7,144.3 C575.6,144.5 576.4,144.8 577.4,145.2 C578.3,145.6 579.2,146 580.2,146.6 C581.3,147.1 582.4,147.8 583.5,148.4 C584.6,149.1 585.7,149.9 586.6,150.6 C587.5,151.3 588.3,151.9 589,152.6 C589.7,153.2 590.4,153.9 591,154.5 C591.6,155.1 592.1,155.8 592.5,156.4 C593,157 593.4,157.6 593.8,158.2 C594.1,158.8 594.4,159.3 594.6,159.9 C594.8,160.4 595,161 595.1,161.5 C595.1,162 595.1,162.5 595,163 C594.9,163.5 594.7,164 594.5,164.4Z" fill="#efefef"/>
<path d="M635.3,170.4 C635.7,170.8 636.1,171.4 636.2,171.8 C636.3,172.2 636.2,172.6 635.9,173 C635.6,173.3 635,173.7 634.4,173.9 C633.8,174.2 632.9,174.4 632.1,174.6 C631.2,174.7 630.2,174.8 629.3,174.9 C628.3,174.9 627.3,175 626.4,175 C625.4,175 624.4,174.9 623.5,174.9 C622.6,174.9 621.7,174.9 620.8,174.9 C619.8,174.9 618.8,174.9 617.7,174.9 C616.6,174.9 615.5,175 614.4,175 C613.2,175.1 612.1,175.1 611,175.1 C609.9,175 608.8,174.9 607.8,174.7 C606.9,174.6 606,174.3 605.3,174 C604.6,173.7 604.2,173.3 603.8,173 C603.4,172.6 603.2,172.3 602.9,171.9 C602.7,171.6 602.5,171.2 602.3,170.9 C602.1,170.5 601.8,170.2 601.6,169.8 C601.5,169.5 601.2,169 601.2,168.6 C601.1,168.2 601.2,167.8 601.3,167.4 C601.5,167 601.8,166.7 602.2,166.4 C602.6,166.1 603.1,165.9 603.6,165.6 C604.1,165.4 604.7,165.2 605.3,164.9 C605.9,164.7 606.5,164.5 607.2,164.4 C607.9,164.2 608.6,164 609.4,163.9 C610.2,163.7 611,163.6 611.9,163.5 C612.8,163.5 613.8,163.4 614.8,163.3 C615.9,163.3 617.1,163.3 618.3,163.3 C619.5,163.3 620.9,163.3 622,163.4 C623.2,163.4 624.3,163.5 625.3,163.7 C626.3,163.9 627.2,164.1 627.9,164.4 C628.7,164.7 629.2,165 629.6,165.4 C630.1,165.7 630.2,166.1 630.5,166.5 C630.7,166.8 630.8,167.1 631,167.4 C631.3,167.7 631.6,168 632,168.3 C632.5,168.6 633.1,168.8 633.6,169.2 C634.2,169.5 634.8,170 635.3,170.4Z" fill="#efefef"/>
<path d="M672.7,168.5 C672.9,168.9 673.3,169.4 673.3,169.8 C673.4,170.2 673.5,170.6 673.2,171.1 C673,171.5 672.4,171.9 671.8,172.3 C671.2,172.7 670.2,173 669.4,173.3 C668.6,173.6 667.7,173.9 666.9,174.2 C666.2,174.5 665.5,174.8 664.8,175.1 C664,175.4 663.4,175.8 662.5,176.1 C661.7,176.4 660.7,176.8 659.6,177 C658.6,177.3 657.1,177.5 655.9,177.6 C654.7,177.7 653.4,177.7 652.3,177.7 C651.2,177.8 650.4,177.7 649.4,177.7 C648.4,177.7 647.5,177.7 646.6,177.8 C645.6,177.8 644.5,177.9 643.5,177.9 C642.5,177.9 641.4,177.9 640.7,177.7 C639.9,177.6 639.2,177.3 638.8,177 C638.4,176.7 638.3,176.3 638.2,175.9 C638.1,175.5 638.3,175.1 638.3,174.6 C638.3,174.2 638.2,173.8 638.1,173.4 C638,173 637.8,172.5 637.8,172.1 C637.7,171.7 637.6,171.3 637.8,170.9 C638,170.5 638.4,170.1 638.9,169.8 C639.4,169.4 640.1,169.1 640.8,168.7 C641.4,168.4 642.1,168.1 642.8,167.7 C643.5,167.4 644.1,167.1 644.8,166.7 C645.5,166.3 646.1,165.9 647,165.6 C647.9,165.3 648.9,164.9 650.1,164.6 C651.2,164.4 652.8,164.2 654,164.1 C655.3,164.1 656.7,164.1 657.7,164.2 C658.8,164.2 659.6,164.4 660.5,164.4 C661.4,164.5 662.1,164.5 663,164.6 C663.9,164.6 664.9,164.5 665.8,164.5 C666.7,164.5 667.7,164.5 668.5,164.7 C669.3,164.8 670,165 670.5,165.2 C671,165.5 671.3,165.8 671.6,166.2 C671.8,166.5 671.9,166.9 672.1,167.3 C672.3,167.7 672.5,168.1 672.7,168.5Z" fill="#efefef"/>
<path d="M709.1,150.4 C709.1,150.9 709,151.5 709,151.9 C709.1,152.4 709.3,152.7 709.3,153.1 C709.3,153.6 709.5,154 709.3,154.5 C709.1,154.9 708.6,155.5 708,156 C707.4,156.5 706.5,157 705.6,157.4 C704.7,157.9 703.7,158.3 702.8,158.7 C701.8,159.1 701,159.4 700.1,159.9 C699.3,160.3 698.6,160.8 697.6,161.3 C696.6,161.8 695.4,162.4 694.2,162.8 C693,163.3 691.6,163.8 690.5,164.1 C689.3,164.3 688.3,164.5 687.4,164.5 C686.4,164.6 685.6,164.6 684.7,164.6 C683.9,164.7 683.1,164.7 682.2,164.8 C681.4,164.8 680.4,165 679.5,165.1 C678.6,165.1 677.6,165.2 676.9,165.1 C676.1,165 675.5,164.7 675.2,164.4 C674.9,164 675,163.5 675,163 C675.1,162.5 675.4,161.9 675.5,161.4 C675.6,160.8 675.7,160.4 675.7,159.9 C675.6,159.5 675.4,159.2 675.3,158.8 C675.1,158.4 674.9,158 675,157.5 C675.1,157 675.4,156.5 675.9,156 C676.4,155.5 677.3,155 678.1,154.6 C678.9,154.1 679.9,153.7 680.8,153.2 C681.7,152.8 682.6,152.4 683.5,152 C684.4,151.5 685.2,151 686.2,150.6 C687.3,150.1 688.5,149.5 689.7,149.1 C691,148.6 692.4,148.2 693.5,148 C694.6,147.7 695.6,147.7 696.5,147.6 C697.5,147.6 698.2,147.7 699,147.7 C699.8,147.7 700.5,147.7 701.4,147.6 C702.2,147.5 703.2,147.3 704.1,147.2 C705,147.1 706.1,147 706.9,147.1 C707.7,147.1 708.4,147.3 708.8,147.6 C709.2,147.9 709.3,148.3 709.4,148.8 C709.4,149.3 709.2,149.9 709.1,150.4Z" fill="#efefef"/>
<path d="M740.6,143.2 C740.6,143.6 740.3,144.2 740,144.6 C739.7,145 739,145.4 738.6,145.7 C738.1,146.1 737.6,146.3 737.2,146.6 C736.8,147 736.6,147.2 736.3,147.6 C736.1,147.9 735.9,148.3 735.6,148.7 C735.3,149 735,149.4 734.5,149.8 C734,150.1 733.2,150.4 732.5,150.6 C731.7,150.8 730.9,150.9 730,151 C729.1,151.2 728.1,151.2 727.2,151.3 C726.2,151.4 725.3,151.6 724.4,151.7 C723.6,151.8 722.7,151.9 721.9,151.9 C721.1,152 720.3,152 719.6,152 C718.9,151.9 718.2,151.7 717.8,151.5 C717.3,151.2 717,150.9 716.7,150.6 C716.4,150.3 716.2,150 716,149.7 C715.7,149.4 715.3,149.2 715,149 C714.6,148.7 714.1,148.5 713.7,148.2 C713.3,147.9 712.8,147.5 712.6,147.1 C712.4,146.7 712.4,146.2 712.5,145.8 C712.6,145.4 712.9,145 713.2,144.7 C713.5,144.3 713.9,143.9 714.2,143.6 C714.5,143.2 714.8,142.9 715.1,142.5 C715.4,142.2 715.7,141.8 716.1,141.4 C716.6,141.1 717.1,140.7 717.8,140.4 C718.4,140.2 719.3,140 720.2,139.9 C721,139.7 721.9,139.7 722.8,139.7 C723.7,139.7 724.7,139.7 725.5,139.7 C726.4,139.6 727.2,139.5 728,139.4 C728.8,139.3 729.5,139.1 730.3,139 C731.1,138.9 732,138.8 732.7,138.7 C733.5,138.7 734.3,138.8 734.9,138.9 C735.5,139 736,139.2 736.5,139.4 C737,139.7 737.3,140 737.7,140.2 C738.1,140.5 738.6,140.7 738.9,141 C739.3,141.3 739.8,141.5 740.1,141.9 C740.3,142.3 740.6,142.7 740.6,143.2Z" fill="#efefef"/>
<path d="M775.3,155.6 C775.1,156.1 774.8,156.5 774.5,156.8 C774.2,157.2 773.8,157.5 773.4,157.7 C772.9,158 772.5,158.2 772,158.5 C771.5,158.7 771,158.9 770.5,159.1 C770,159.3 769.4,159.5 768.8,159.6 C768.1,159.8 767.5,159.9 766.7,160 C765.9,160.1 765.1,160.2 764.2,160.1 C763.3,160.1 762.3,160.1 761.2,159.9 C760.1,159.8 758.8,159.5 757.7,159.2 C756.6,158.9 755.4,158.5 754.4,158.2 C753.4,157.8 752.7,157.5 751.9,157.1 C751.1,156.7 750.5,156.4 749.9,156 C749.2,155.6 748.7,155.3 748.1,154.9 C747.5,154.6 746.9,154.2 746.4,153.9 C745.8,153.5 745.2,153.1 744.7,152.7 C744.2,152.3 743.7,151.9 743.3,151.5 C742.9,151 742.5,150.6 742.4,150.1 C742.2,149.6 742.1,149.1 742.2,148.6 C742.2,148.1 742.5,147.6 742.8,147.2 C743.1,146.8 743.5,146.5 744,146.3 C744.5,146 745.1,145.8 745.8,145.6 C746.4,145.5 747.1,145.3 747.7,145.2 C748.4,145.1 749.1,145 749.9,145 C750.6,144.9 751.3,144.8 752.1,144.8 C752.9,144.8 753.7,144.8 754.6,144.8 C755.4,144.8 756.3,144.9 757.3,145 C758.3,145.1 759.5,145.3 760.6,145.5 C761.7,145.7 762.9,146 763.9,146.3 C764.9,146.6 765.8,146.9 766.7,147.2 C767.5,147.5 768.3,147.8 769.1,148.2 C769.8,148.5 770.5,148.9 771.2,149.3 C771.8,149.6 772.4,150 773,150.4 C773.5,150.8 774,151.2 774.4,151.7 C774.8,152.1 775.1,152.5 775.3,152.9 C775.5,153.4 775.7,153.8 775.7,154.3 C775.7,154.7 775.5,155.2 775.3,155.6Z" fill="#efefef"/>
<path d="M811.1,159.2 C811.1,159.6 810.8,160.1 810.6,160.4 C810.3,160.8 809.8,161.1 809.4,161.4 C808.9,161.7 808.4,161.9 807.9,162.2 C807.4,162.4 806.9,162.6 806.2,162.8 C805.6,163 804.9,163.2 804.2,163.3 C803.4,163.4 802.5,163.4 801.7,163.4 C800.8,163.5 799.9,163.4 799.1,163.4 C798.2,163.4 797.4,163.3 796.5,163.3 C795.6,163.3 794.6,163.4 793.5,163.4 C792.4,163.4 791.3,163.4 790.2,163.4 C789.1,163.4 788,163.4 787,163.2 C786,163.1 785,162.9 784.2,162.6 C783.4,162.4 782.8,162 782.2,161.7 C781.7,161.4 781.3,161 781,160.6 C780.6,160.3 780.3,160 780,159.6 C779.7,159.3 779.3,159 779.1,158.6 C778.8,158.3 778.6,157.9 778.5,157.5 C778.4,157.2 778.5,156.7 778.6,156.3 C778.7,156 779,155.6 779.2,155.2 C779.4,154.9 779.7,154.6 780,154.3 C780.2,154 780.4,153.7 780.7,153.4 C780.9,153.1 781.2,152.8 781.6,152.5 C782,152.2 782.5,151.9 783.1,151.7 C783.8,151.5 784.6,151.4 785.5,151.3 C786.3,151.3 787.3,151.3 788.3,151.3 C789.3,151.4 790.2,151.4 791.3,151.5 C792.3,151.6 793.4,151.7 794.5,151.8 C795.6,151.9 796.8,151.9 797.8,152.1 C798.8,152.2 799.7,152.3 800.6,152.5 C801.4,152.7 802.2,153 802.9,153.2 C803.5,153.5 804,153.8 804.5,154.1 C805,154.4 805.4,154.7 805.9,155 C806.4,155.3 806.9,155.6 807.4,155.9 C808,156.2 808.6,156.4 809.1,156.8 C809.7,157.1 810.3,157.5 810.6,157.9 C810.9,158.3 811.1,158.8 811.1,159.2Z" fill="#efefef"/>
<g fill="#626262"><circle cx="521" cy="148.9" r="1.3"/><circle cx="532.1" cy="146.3" r="1.3"/><circle cx="514.5" cy="147.5" r="1.3"/><circle cx="521.1" cy="141.6" r="1.3"/><circle cx="526.8" cy="139.9" r="1.3"/><circle cx="527.6" cy="145.3" r="1.3"/><circle cx="517.2" cy="144.4" r="1.3"/><circle cx="534.7" cy="141.5" r="1.3"/><circle cx="530.9" cy="142.6" r="1.3"/><circle cx="517.5" cy="151.5" r="1.3"/><circle cx="524.9" cy="150.8" r="1.3"/><circle cx="533.2" cy="138" r="1.3"/><circle cx="523.8" cy="145.7" r="1.3"/><circle cx="555.5" cy="136.9" r="1.3"/><circle cx="557.7" cy="140.6" r="1.3"/><circle cx="560.8" cy="138" r="1.3"/><circle cx="552.4" cy="134.7" r="1.3"/><circle cx="559.5" cy="134.3" r="1.3"/><circle cx="547.2" cy="136.1" r="1.3"/><circle cx="551.2" cy="139.4" r="1.3"/><circle cx="588.4" cy="162" r="1.3"/><circle cx="582.7" cy="160.8" r="1.3"/><circle cx="576.8" cy="148" r="1.3"/><circle cx="570.7" cy="151" r="1.3"/><circle cx="574.3" cy="153" r="1.3"/><circle cx="588" cy="155.4" r="1.3"/><circle cx="583.1" cy="152" r="1.3"/><circle cx="571" cy="146.4" r="1.3"/><circle cx="578.7" cy="152.6" r="1.3"/><circle cx="580.2" cy="158.2" r="1.3"/><circle cx="585.2" cy="157.8" r="1.3"/><circle cx="575.7" cy="158.4" r="1.3"/><circle cx="567.5" cy="148.4" r="1.3"/><circle cx="572.3" cy="156.1" r="1.3"/><circle cx="609.7" cy="170.9" r="1.3"/><circle cx="621.7" cy="168.2" r="1.3"/><circle cx="618.3" cy="170.3" r="1.3"/><circle cx="623.1" cy="172.6" r="1.3"/><circle cx="629" cy="169.8" r="1.3"/><circle cx="615.4" cy="166.9" r="1.3"/><circle cx="609" cy="165.8" r="1.3"/><circle cx="605.4" cy="169.5" r="1.3"/><circle cx="614.9" cy="173" r="1.3"/><circle cx="625.3" cy="167.6" r="1.3"/><circle cx="654.2" cy="174.7" r="1.3"/><circle cx="662.2" cy="171.4" r="1.3"/><circle cx="656.3" cy="171" r="1.3"/><circle cx="665.8" cy="170.4" r="1.3"/><circle cx="661.3" cy="166.6" r="1.3"/><circle cx="650.3" cy="167" r="1.3"/><circle cx="656.5" cy="165.8" r="1.3"/><circle cx="645.6" cy="175.5" r="1.3"/><circle cx="652.1" cy="170.7" r="1.3"/><circle cx="647.4" cy="170.7" r="1.3"/><circle cx="643.3" cy="172.1" r="1.3"/><circle cx="650.5" cy="174.2" r="1.3"/><circle cx="697.9" cy="151.7" r="1.3"/><circle cx="680.4" cy="157" r="1.3"/><circle cx="694.5" cy="159.3" r="1.3"/><circle cx="695.6" cy="155.1" r="1.3"/><circle cx="688.1" cy="162" r="1.3"/><circle cx="704.7" cy="150.8" r="1.3"/><circle cx="704.2" cy="155.2" r="1.3"/><circle cx="686.7" cy="158" r="1.3"/><circle cx="690.7" cy="152.2" r="1.3"/><circle cx="699.9" cy="155.3" r="1.3"/><circle cx="684.1" cy="162" r="1.3"/><circle cx="690.7" cy="158.4" r="1.3"/><circle cx="680.1" cy="162.1" r="1.3"/><circle cx="722.6" cy="148.3" r="1.3"/><circle cx="719.8" cy="145.9" r="1.3"/><circle cx="732.9" cy="145.1" r="1.3"/><circle cx="726.1" cy="150" r="1.3"/><circle cx="734.6" cy="141.7" r="1.3"/><circle cx="728.1" cy="144.7" r="1.3"/><circle cx="731.1" cy="140.6" r="1.3"/><circle cx="723.4" cy="143.3" r="1.3"/><circle cx="755" cy="150.7" r="1.3"/><circle cx="764.5" cy="152.4" r="1.3"/><circle cx="760" cy="150.2" r="1.3"/><circle cx="770.9" cy="153.6" r="1.3"/><circle cx="766.6" cy="156.5" r="1.3"/><circle cx="760.2" cy="156.2" r="1.3"/><circle cx="752.8" cy="146.6" r="1.3"/><circle cx="757" cy="154.6" r="1.3"/><circle cx="748.2" cy="152.3" r="1.3"/><circle cx="765.9" cy="149" r="1.3"/><circle cx="753.3" cy="155.9" r="1.3"/><circle cx="801.2" cy="159.6" r="1.3"/><circle cx="791.2" cy="157.4" r="1.3"/><circle cx="788.2" cy="154.8" r="1.3"/><circle cx="800.2" cy="155.4" r="1.3"/><circle cx="787.1" cy="158.4" r="1.3"/><circle cx="795.1" cy="155.4" r="1.3"/><circle cx="796.6" cy="161.9" r="1.3"/><circle cx="804.8" cy="157.8" r="1.3"/><circle cx="782.5" cy="158.4" r="1.3"/><circle cx="784.5" cy="155.1" r="1.3"/></g>
<path d="M591.6,179.7 C591.3,179.9 590.8,180.1 590.4,180.2 C589.9,180.3 589.4,180.3 588.9,180.4 C588.4,180.5 587.8,180.5 587.3,180.5 C586.7,180.6 586.2,180.7 585.5,180.7 C584.9,180.6 584.2,180.6 583.3,180.5 C582.5,180.3 581.4,180 580.4,179.7 C579.3,179.3 578.1,178.7 576.9,178.2 C575.7,177.6 574.5,176.9 573.4,176.2 C572.2,175.6 571.1,174.9 570,174.2 C568.9,173.5 567.9,172.8 566.9,172.1 C565.8,171.5 564.8,170.8 563.8,170.1 C562.9,169.4 561.9,168.7 561.1,168 C560.2,167.3 559.5,166.6 558.8,166 C558.1,165.3 557.5,164.7 557,164.1 C556.4,163.5 556,162.9 555.5,162.3 C555,161.7 554.6,161.1 554.2,160.5 C553.9,159.9 553.5,159.4 553.3,158.9 C553.2,158.4 553.1,157.9 553.2,157.6 C553.4,157.3 553.7,157 554.2,156.9 C554.6,156.7 555.2,156.7 555.9,156.7 C556.5,156.7 557.2,156.7 557.9,156.8 C558.7,156.9 559.4,157 560.3,157.2 C561.1,157.4 562,157.5 563,157.8 C563.9,158.1 565,158.5 566,159 C567.1,159.4 568.3,160 569.4,160.5 C570.5,161.1 571.6,161.7 572.7,162.3 C573.7,162.9 574.8,163.5 575.8,164.1 C576.9,164.7 578,165.3 579.1,165.9 C580.1,166.5 581.3,167.2 582.4,167.9 C583.5,168.6 584.7,169.3 585.7,170 C586.7,170.8 587.6,171.6 588.4,172.3 C589.1,173 589.8,173.7 590.3,174.3 C590.8,175 591.1,175.5 591.4,176.1 C591.7,176.6 591.9,177.2 592,177.6 C592.2,178.1 592.2,178.5 592.1,178.9 C592.1,179.2 591.9,179.5 591.6,179.7Z" fill="#a9a9a9"/>
<path d="M767.4,186.8 C767.2,187.1 766.8,187.3 766.3,187.4 C765.8,187.5 765.1,187.6 764.4,187.7 C763.7,187.7 762.9,187.7 762.2,187.7 C761.4,187.7 760.6,187.6 759.8,187.6 C759,187.5 758.2,187.5 757.3,187.4 C756.4,187.3 755.5,187.2 754.5,187.1 C753.5,186.9 752.5,186.7 751.3,186.5 C750.2,186.3 749,186 747.8,185.7 C746.6,185.3 745.3,184.9 744,184.5 C742.7,184.1 741.4,183.6 740.2,183 C739,182.5 737.8,181.9 736.7,181.4 C735.7,180.8 734.8,180.3 734,179.7 C733.2,179.2 732.6,178.7 731.9,178.2 C731.3,177.7 730.8,177.2 730.3,176.7 C729.7,176.3 729.2,175.8 728.6,175.4 C728,174.9 727.4,174.4 726.8,173.9 C726.3,173.5 725.7,172.9 725.3,172.5 C724.9,172 724.6,171.6 724.5,171.2 C724.5,170.8 724.6,170.5 724.9,170.2 C725.2,170 725.7,169.8 726.3,169.7 C726.9,169.6 727.7,169.6 728.5,169.6 C729.3,169.6 730.2,169.7 731.2,169.8 C732.2,169.9 733.2,170.1 734.2,170.3 C735.3,170.5 736.4,170.7 737.5,171 C738.6,171.2 739.7,171.5 740.9,171.8 C742,172.1 743.2,172.5 744.3,172.8 C745.5,173.2 746.7,173.5 747.8,173.9 C749,174.3 750.3,174.8 751.4,175.2 C752.6,175.7 753.8,176.2 754.9,176.7 C756,177.2 757.1,177.8 758.1,178.3 C759,178.8 759.9,179.4 760.7,179.9 C761.5,180.4 762.2,180.9 762.9,181.4 C763.6,181.9 764.3,182.4 764.9,182.9 C765.5,183.4 766.1,184 766.5,184.4 C767,184.9 767.3,185.4 767.5,185.8 C767.6,186.2 767.6,186.5 767.4,186.8Z" fill="#a9a9a9"/>
<path d="M675.8,228.8 C675.6,229.1 675.3,229.3 674.9,229.6 C674.5,229.8 673.9,230 673.3,230.1 C672.7,230.3 672.1,230.5 671.4,230.6 C670.7,230.7 670.1,230.9 669.4,231 C668.7,231.1 668,231.2 667.2,231.3 C666.4,231.4 665.6,231.5 664.7,231.6 C663.9,231.6 662.9,231.7 661.9,231.7 C660.9,231.6 659.8,231.6 658.7,231.5 C657.6,231.4 656.4,231.3 655.3,231.1 C654.2,230.9 653.1,230.7 652,230.5 C651,230.2 650,230 649,229.7 C648,229.4 647.1,229.2 646.3,228.9 C645.4,228.6 644.5,228.3 643.7,228 C642.9,227.7 642.1,227.5 641.3,227.1 C640.5,226.8 639.8,226.5 639.2,226.2 C638.5,225.9 637.9,225.5 637.5,225.2 C637.1,224.9 636.8,224.5 636.7,224.2 C636.5,223.9 636.6,223.6 636.8,223.3 C636.9,223 637.3,222.8 637.7,222.6 C638.1,222.3 638.6,222.1 639.2,222 C639.7,221.8 640.3,221.6 640.8,221.5 C641.4,221.3 642,221.2 642.6,221 C643.3,220.9 643.9,220.7 644.6,220.6 C645.4,220.5 646.1,220.3 647,220.3 C647.9,220.2 648.9,220.2 649.9,220.2 C651,220.2 652.1,220.2 653.3,220.4 C654.4,220.5 655.6,220.6 656.7,220.8 C657.8,221 659,221.3 660,221.5 C661,221.8 662,222.1 662.9,222.4 C663.8,222.6 664.6,222.9 665.5,223.2 C666.3,223.5 667.1,223.7 667.9,224 C668.7,224.3 669.5,224.6 670.3,224.9 C671.1,225.2 671.9,225.5 672.6,225.8 C673.3,226.1 674,226.5 674.5,226.8 C675,227.2 675.4,227.5 675.6,227.8 C675.8,228.2 675.9,228.5 675.8,228.8Z" fill="#b0b0b0"/>
<path d="M549.6,149.8 C549.8,150.3 549.6,150.9 549.5,151.4 C549.4,151.9 549.1,152.4 548.8,152.9 C548.5,153.4 548.2,153.9 547.8,154.4 C547.5,154.9 547.1,155.4 546.5,156 C546,156.5 545.4,157.1 544.6,157.6 C543.8,158.2 542.9,158.8 541.9,159.3 C540.9,159.9 539.8,160.4 538.7,160.9 C537.5,161.4 536.4,161.9 535.1,162.4 C533.8,163 532.3,163.5 530.9,164 C529.5,164.5 528,165 526.7,165.4 C525.4,165.8 524.3,166 523.1,166.3 C522,166.5 521,166.7 520,166.9 C518.9,167 518,167.2 517,167.3 C516,167.4 515.1,167.6 514.1,167.7 C513.1,167.8 512,167.9 511.1,167.9 C510.2,168 509.2,168 508.5,167.8 C507.8,167.6 507.2,167.4 507,167 C506.7,166.6 506.7,166 506.8,165.4 C506.9,164.8 507.3,164.1 507.7,163.6 C508.1,163 508.7,162.4 509.2,161.9 C509.6,161.3 510.1,160.9 510.5,160.4 C511,159.9 511.3,159.4 511.8,158.9 C512.3,158.4 512.8,157.9 513.4,157.4 C514,156.9 514.7,156.3 515.5,155.7 C516.3,155.2 517.2,154.6 518.2,154 C519.3,153.5 520.3,152.9 521.6,152.3 C522.9,151.7 524.5,151.1 526,150.5 C527.4,150 529.1,149.4 530.5,149 C531.8,148.6 533.1,148.4 534.2,148.2 C535.3,148 536.3,147.9 537.3,147.9 C538.2,147.8 539,147.8 539.8,147.8 C540.7,147.8 541.4,147.8 542.2,147.8 C543,147.8 543.9,147.8 544.7,147.8 C545.5,147.8 546.4,147.8 547.1,147.9 C547.8,148.1 548.4,148.2 548.8,148.5 C549.3,148.9 549.5,149.3 549.6,149.8Z" fill="#efefef"/>
<path d="M552.7,173 C552.6,173.4 552.5,173.9 552.4,174.4 C552.3,174.8 552.3,175.2 552.1,175.7 C551.9,176.1 551.6,176.5 551.2,176.9 C550.7,177.4 550.1,177.8 549.4,178.2 C548.7,178.6 547.8,179 546.8,179.4 C545.9,179.7 544.9,180.1 543.8,180.4 C542.7,180.8 541.6,181.1 540.4,181.4 C539.2,181.7 538,182 536.6,182.3 C535.2,182.5 533.5,182.8 532,183 C530.5,183.2 528.8,183.3 527.5,183.4 C526.1,183.5 525,183.4 523.8,183.5 C522.6,183.5 521.5,183.5 520.4,183.5 C519.2,183.5 518,183.5 516.9,183.5 C515.8,183.5 514.6,183.4 513.6,183.3 C512.6,183.2 511.7,183 511,182.8 C510.3,182.5 509.9,182.1 509.6,181.8 C509.3,181.4 509.3,180.9 509.3,180.5 C509.3,180 509.4,179.5 509.5,179 C509.6,178.5 509.7,178.1 509.8,177.6 C509.9,177.2 509.9,176.8 510.1,176.3 C510.3,175.9 510.5,175.5 510.9,175.1 C511.3,174.6 511.9,174.2 512.6,173.8 C513.3,173.4 514.2,173 515.1,172.6 C516,172.2 517,171.9 518.1,171.5 C519.2,171.2 520.3,170.8 521.5,170.5 C522.7,170.2 524,169.9 525.4,169.7 C526.8,169.4 528.5,169.2 530,169 C531.5,168.8 533.2,168.7 534.5,168.6 C535.9,168.6 537,168.6 538.2,168.6 C539.4,168.6 540.4,168.6 541.6,168.6 C542.7,168.6 543.8,168.5 544.9,168.6 C546.1,168.6 547.3,168.6 548.3,168.7 C549.3,168.8 550.2,169 550.9,169.3 C551.6,169.5 552.1,169.9 552.4,170.2 C552.8,170.6 552.8,171 552.8,171.5 C552.9,171.9 552.7,172.5 552.7,173Z" fill="#efefef"/>
<path d="M578.9,187.6 C578.8,188.1 578.5,188.7 578.2,189.1 C577.9,189.6 577.5,190.1 576.9,190.5 C576.4,190.9 575.8,191.3 575,191.6 C574.3,192 573.4,192.3 572.5,192.7 C571.6,193 570.6,193.3 569.6,193.6 C568.6,193.9 567.6,194.2 566.4,194.4 C565.3,194.7 564.2,195 562.9,195.3 C561.6,195.5 560.3,195.8 558.7,196 C557,196.2 555.1,196.3 553.3,196.4 C551.5,196.4 549.5,196.4 547.9,196.3 C546.3,196.3 544.9,196.1 543.6,195.9 C542.3,195.8 541.2,195.6 540,195.4 C538.8,195.2 537.8,195 536.7,194.8 C535.6,194.6 534.5,194.4 533.5,194.1 C532.5,193.9 531.5,193.6 530.8,193.3 C530,193 529.3,192.6 528.9,192.2 C528.4,191.8 528.1,191.4 527.9,190.9 C527.7,190.4 527.7,189.9 527.6,189.4 C527.6,188.9 527.7,188.3 527.9,187.9 C528.1,187.4 528.3,186.9 528.7,186.5 C529.1,186.1 529.6,185.6 530.3,185.3 C531,184.9 531.8,184.5 532.8,184.2 C533.7,183.8 534.7,183.5 535.8,183.2 C536.9,182.9 538.1,182.7 539.3,182.4 C540.5,182.2 541.7,181.9 543.1,181.7 C544.4,181.5 545.8,181.3 547.4,181.1 C549,181 551,180.9 552.7,180.8 C554.5,180.8 556.4,180.9 557.9,180.9 C559.5,181 560.8,181.2 562.1,181.3 C563.4,181.5 564.5,181.6 565.7,181.8 C566.9,181.9 568.1,182.1 569.3,182.2 C570.5,182.4 571.7,182.6 572.8,182.8 C573.9,183 575,183.3 575.9,183.6 C576.8,183.9 577.5,184.3 578,184.7 C578.5,185.1 578.8,185.5 578.9,186 C579.1,186.5 579,187.1 578.9,187.6Z" fill="#efefef"/>
<path d="M640.9,190.2 C640.8,190.8 640.5,191.3 640.1,191.8 C639.8,192.2 639.3,192.6 638.8,192.9 C638.3,193.3 637.8,193.6 637.1,193.9 C636.5,194.2 635.7,194.4 634.9,194.6 C634.1,194.8 633.1,195 632.1,195.1 C631.1,195.2 630,195.3 628.9,195.3 C627.7,195.3 626.5,195.2 625.2,195.1 C623.9,195 622.6,194.8 621.2,194.6 C619.8,194.4 618.2,194.2 616.6,193.9 C615.1,193.6 613.5,193.3 612.1,193 C610.7,192.7 609.5,192.4 608.2,192.1 C607,191.8 605.7,191.4 604.6,191 C603.5,190.6 602.4,190.2 601.4,189.8 C600.4,189.4 599.5,188.9 598.7,188.4 C597.9,187.9 597.2,187.4 596.7,186.9 C596.2,186.4 595.9,185.9 595.7,185.4 C595.5,184.9 595.4,184.4 595.5,183.9 C595.5,183.4 595.7,182.8 596,182.3 C596.2,181.8 596.6,181.3 596.9,180.9 C597.2,180.5 597.6,180.1 598,179.7 C598.4,179.4 598.8,179 599.3,178.7 C599.9,178.4 600.4,178 601.1,177.8 C601.8,177.5 602.6,177.3 603.5,177.1 C604.5,176.9 605.6,176.8 606.7,176.8 C607.9,176.8 609.2,176.8 610.5,176.9 C611.8,177 613.2,177.2 614.7,177.4 C616.2,177.6 617.9,178 619.4,178.3 C620.9,178.6 622.5,179 623.9,179.4 C625.2,179.7 626.4,180.1 627.6,180.4 C628.7,180.8 629.8,181.2 630.9,181.6 C631.9,182 632.9,182.3 633.9,182.8 C634.8,183.2 635.8,183.6 636.6,184.1 C637.4,184.5 638.2,185 638.8,185.5 C639.4,186 639.9,186.5 640.3,187 C640.7,187.5 640.9,188 641,188.6 C641.1,189.1 641.1,189.7 640.9,190.2Z" fill="#efefef"/>
<path d="M692.4,176.1 C692.7,176.6 693.1,177.1 693.2,177.6 C693.4,178.1 693.6,178.6 693.5,179.1 C693.3,179.6 692.9,180.2 692.3,180.7 C691.7,181.2 690.7,181.7 689.6,182.2 C688.6,182.7 687.3,183.1 686.1,183.5 C684.9,183.9 683.7,184.3 682.5,184.7 C681.3,185 680.2,185.4 678.9,185.8 C677.7,186.1 676.5,186.5 675.1,186.9 C673.7,187.3 672,187.7 670.4,188 C668.8,188.4 667,188.7 665.4,188.9 C663.9,189.1 662.5,189.2 661.2,189.3 C659.8,189.4 658.5,189.4 657.2,189.5 C656,189.5 654.7,189.5 653.6,189.5 C652.4,189.4 651.3,189.3 650.4,189.1 C649.5,188.9 648.7,188.6 648.1,188.3 C647.5,188 647.2,187.6 646.9,187.1 C646.6,186.7 646.6,186.3 646.4,185.8 C646.2,185.3 646.1,184.8 645.9,184.3 C645.7,183.8 645.4,183.2 645.3,182.7 C645.2,182.2 645.1,181.8 645.2,181.3 C645.4,180.8 645.7,180.2 646.3,179.7 C646.9,179.2 647.8,178.7 648.7,178.2 C649.6,177.8 650.8,177.3 651.9,176.9 C653,176.5 654.2,176.1 655.4,175.7 C656.5,175.3 657.6,174.9 658.8,174.5 C660.1,174.1 661.2,173.7 662.7,173.3 C664.2,172.9 665.9,172.5 667.6,172.2 C669.2,171.8 671.1,171.6 672.6,171.4 C674.2,171.2 675.5,171.1 676.9,171.1 C678.2,171 679.4,171 680.6,171 C681.8,171 683,171.1 684.1,171.2 C685.1,171.2 686.2,171.4 687.1,171.5 C688,171.7 688.8,172 689.4,172.3 C690,172.6 690.3,173 690.7,173.4 C691.1,173.8 691.3,174.2 691.5,174.6 C691.8,175.1 692.1,175.6 692.4,176.1Z" fill="#efefef"/>
<path d="M734.4,153.9 C734.6,154.5 734.7,155.1 734.7,155.7 C734.7,156.3 734.6,156.9 734.4,157.5 C734.3,158.1 734,158.7 733.7,159.3 C733.4,159.9 733,160.5 732.4,161.2 C731.9,161.8 731.3,162.5 730.6,163.1 C729.9,163.7 729,164.4 728.1,165 C727.3,165.6 726.3,166.2 725.3,166.8 C724.3,167.4 723.4,168 722.2,168.6 C721.1,169.3 719.8,170 718.5,170.6 C717.3,171.2 715.9,171.9 714.7,172.4 C713.4,173 712.3,173.4 711.2,173.8 C710,174.2 708.9,174.5 707.9,174.7 C706.8,174.9 705.9,175.1 704.9,175.2 C704,175.2 703.2,175.3 702.4,175.2 C701.5,175.2 700.8,175.1 700.1,175 C699.4,174.8 698.8,174.6 698.3,174.4 C697.7,174.1 697.3,173.8 697,173.3 C696.6,172.9 696.4,172.3 696.2,171.7 C696.1,171.2 696,170.6 696,170 C696,169.4 696.1,168.9 696.2,168.3 C696.3,167.8 696.4,167.2 696.7,166.6 C696.9,166 697.1,165.4 697.5,164.8 C698,164.2 698.5,163.5 699.1,162.9 C699.7,162.2 700.5,161.6 701.4,160.9 C702.3,160.3 703.2,159.6 704.3,159 C705.3,158.4 706.3,157.8 707.5,157.2 C708.7,156.5 710.1,155.9 711.4,155.3 C712.7,154.7 714.1,154 715.3,153.6 C716.6,153.1 717.7,152.7 718.8,152.4 C719.9,152.1 720.9,151.9 721.9,151.7 C722.9,151.5 723.8,151.4 724.7,151.3 C725.6,151.2 726.4,151.2 727.2,151.2 C728.1,151.2 728.9,151.2 729.6,151.2 C730.4,151.3 731.1,151.4 731.8,151.6 C732.4,151.8 733,152.1 733.4,152.5 C733.9,152.9 734.2,153.4 734.4,153.9Z" fill="#efefef"/>
<path d="M780.7,173.3 C780.5,173.8 780.3,174.3 780.1,174.8 C779.9,175.3 779.7,175.8 779.4,176.2 C779,176.6 778.7,177 778.1,177.3 C777.5,177.6 776.8,177.9 775.9,178 C775.1,178.2 774.1,178.2 773,178.2 C772,178.2 770.9,178.2 769.7,178.1 C768.6,178 767.5,177.9 766.3,177.7 C765,177.6 763.9,177.4 762.5,177.2 C761.1,176.9 759.5,176.6 758.1,176.2 C756.6,175.8 755,175.3 753.7,174.8 C752.5,174.3 751.4,173.8 750.4,173.3 C749.3,172.8 748.5,172.3 747.6,171.8 C746.7,171.3 745.8,170.8 745,170.3 C744.2,169.8 743.3,169.3 742.5,168.8 C741.7,168.3 740.9,167.7 740.3,167.2 C739.7,166.6 739.2,166 738.9,165.5 C738.6,164.9 738.5,164.3 738.5,163.8 C738.5,163.2 738.6,162.6 738.8,162 C739,161.5 739.2,160.9 739.5,160.4 C739.9,159.9 740.2,159.5 740.7,159.1 C741.1,158.8 741.7,158.5 742.4,158.2 C743.2,158 744.1,157.9 745,157.8 C746,157.7 747.1,157.8 748.1,157.8 C749.2,157.8 750.3,158 751.4,158.1 C752.5,158.1 753.5,158.2 754.6,158.3 C755.8,158.4 756.9,158.5 758.2,158.7 C759.5,158.9 761.1,159.1 762.5,159.5 C764,159.8 765.7,160.2 767,160.6 C768.4,161.1 769.5,161.5 770.7,162 C771.8,162.5 772.8,163.1 773.7,163.6 C774.7,164.1 775.5,164.6 776.4,165.1 C777.2,165.7 778,166.2 778.7,166.8 C779.3,167.3 780,167.9 780.4,168.4 C780.8,169 781.1,169.6 781.2,170.1 C781.4,170.6 781.3,171.1 781.2,171.7 C781.1,172.2 780.9,172.7 780.7,173.3Z" fill="#efefef"/>
<path d="M815.8,177.3 C815.9,177.8 816,178.4 815.9,178.8 C815.7,179.2 815.4,179.6 814.9,179.9 C814.5,180.2 813.9,180.4 813.3,180.7 C812.7,180.9 812.1,181 811.4,181.2 C810.8,181.4 810.2,181.6 809.5,181.7 C808.8,181.8 808.1,182 807.4,182.1 C806.6,182.1 805.7,182.2 804.8,182.1 C803.9,182.1 803,182 802,181.8 C801,181.7 799.9,181.4 798.8,181.2 C797.8,181.1 796.7,180.8 795.7,180.6 C794.7,180.4 793.7,180.3 792.8,180 C791.9,179.8 790.9,179.6 790.1,179.3 C789.4,178.9 788.6,178.6 788.1,178.2 C787.6,177.8 787.2,177.3 786.9,176.9 C786.6,176.5 786.5,176.1 786.3,175.7 C786.1,175.3 785.9,174.9 785.6,174.5 C785.4,174.1 785,173.7 784.7,173.2 C784.4,172.7 784,172.2 783.8,171.6 C783.7,171.1 783.6,170.5 783.8,170.1 C783.9,169.7 784.3,169.3 784.8,169 C785.3,168.7 786,168.5 786.6,168.3 C787.2,168.1 788,168 788.6,167.8 C789.3,167.7 790,167.5 790.7,167.4 C791.4,167.3 792.1,167.2 792.8,167.1 C793.6,167.1 794.4,167 795.3,167.1 C796.2,167.1 797.1,167.2 798,167.3 C799,167.4 800.1,167.6 801.2,167.8 C802.2,168 803.3,168.2 804.4,168.3 C805.4,168.5 806.4,168.6 807.3,168.9 C808.3,169.1 809.3,169.3 810.1,169.6 C810.9,169.9 811.6,170.3 812.2,170.7 C812.7,171.1 813.1,171.6 813.3,172 C813.6,172.5 813.7,172.9 813.8,173.3 C814,173.7 814.1,174.1 814.3,174.5 C814.5,174.9 814.8,175.3 815.1,175.8 C815.3,176.2 815.7,176.8 815.8,177.3Z" fill="#efefef"/>
<path d="M722.5,184.9 C722.7,185.4 723.1,185.9 723.3,186.4 C723.5,186.8 723.9,187.3 723.8,187.8 C723.8,188.2 723.6,188.8 723.1,189.2 C722.5,189.7 721.6,190.2 720.5,190.6 C719.5,191 718.1,191.4 716.8,191.7 C715.6,192 714.2,192.2 713,192.5 C711.8,192.8 710.8,193.1 709.6,193.4 C708.5,193.7 707.5,194 706.2,194.4 C704.9,194.7 703.4,195.1 701.8,195.4 C700.3,195.7 698.6,196 697.1,196.1 C695.6,196.3 694.3,196.4 693,196.4 C691.8,196.4 690.6,196.4 689.4,196.3 C688.3,196.3 687.1,196.3 686,196.2 C684.9,196.1 683.8,196 682.9,195.8 C682,195.6 681.2,195.3 680.6,195 C680.1,194.7 679.8,194.3 679.7,193.8 C679.5,193.4 679.7,192.9 679.7,192.4 C679.7,192 679.8,191.4 679.7,191 C679.6,190.5 679.4,190 679.2,189.6 C679,189.1 678.6,188.7 678.6,188.2 C678.6,187.8 678.6,187.3 679.1,186.8 C679.5,186.3 680.3,185.8 681.2,185.4 C682.1,185 683.4,184.6 684.6,184.3 C685.7,183.9 687,183.7 688.2,183.3 C689.4,183 690.4,182.7 691.6,182.4 C692.8,182.1 693.8,181.7 695.2,181.4 C696.5,181 698.2,180.7 699.7,180.4 C701.3,180.1 703.1,179.9 704.5,179.8 C706,179.7 707.2,179.7 708.5,179.7 C709.7,179.7 710.8,179.8 711.9,179.9 C713,180 714,180 715,180.1 C716.1,180.2 717.1,180.3 718,180.5 C718.9,180.7 719.8,180.9 720.4,181.2 C721.1,181.5 721.5,181.8 721.7,182.2 C722,182.6 722,183.1 722.2,183.5 C722.3,184 722.3,184.5 722.5,184.9Z" fill="#efefef"/>
<path d="M768.8,207.2 C768.5,207.7 768,208.1 767.5,208.5 C767,208.8 766.5,209.1 765.8,209.3 C765.2,209.5 764.6,209.6 763.9,209.7 C763.2,209.9 762.5,210 761.7,210 C760.9,210.1 760.1,210.1 759.1,210.1 C758.2,210 757.2,209.9 756.1,209.7 C755,209.5 753.9,209.2 752.6,208.8 C751.4,208.4 750.1,208 748.7,207.4 C747.3,206.8 745.8,206.1 744.3,205.4 C742.9,204.7 741.4,203.9 740.2,203.1 C738.9,202.4 737.9,201.8 736.8,201.1 C735.8,200.4 734.9,199.7 734,199.1 C733.2,198.4 732.4,197.7 731.7,197.1 C731,196.4 730.4,195.8 729.8,195.1 C729.3,194.5 728.8,193.8 728.3,193.2 C727.8,192.5 727.4,191.9 727.1,191.3 C726.8,190.6 726.5,190 726.4,189.3 C726.3,188.7 726.3,188 726.5,187.5 C726.6,186.9 727,186.3 727.5,186 C727.9,185.6 728.6,185.3 729.2,185.1 C729.9,184.9 730.7,184.9 731.5,184.8 C732.4,184.8 733.3,184.8 734.2,184.8 C735.1,184.9 736,185 737,185.1 C738,185.3 739.1,185.5 740.2,185.7 C741.3,186 742.4,186.3 743.6,186.7 C744.8,187.1 746,187.5 747.3,188.1 C748.6,188.6 750.1,189.3 751.5,189.9 C752.9,190.6 754.4,191.3 755.7,191.9 C757,192.6 758.2,193.2 759.3,193.9 C760.5,194.5 761.5,195.2 762.5,195.9 C763.5,196.6 764.4,197.3 765.1,198 C765.9,198.7 766.5,199.3 767.1,200 C767.6,200.7 768.1,201.3 768.4,202 C768.8,202.6 769,203.2 769.2,203.8 C769.3,204.4 769.4,205 769.3,205.5 C769.3,206.1 769.1,206.7 768.8,207.2Z" fill="#efefef"/>
<path d="M809.9,193 C810,193.5 810,194.1 809.8,194.5 C809.6,194.9 809.2,195.3 808.6,195.5 C808,195.8 807.1,196 806.3,196.1 C805.6,196.3 804.6,196.3 803.8,196.4 C803.1,196.6 802.3,196.7 801.6,196.8 C800.8,197 800.2,197.2 799.3,197.3 C798.5,197.5 797.6,197.6 796.5,197.6 C795.5,197.6 794.3,197.6 793,197.4 C791.7,197.2 790.1,196.9 788.8,196.6 C787.4,196.2 786.1,195.8 784.9,195.5 C783.7,195.2 782.7,194.9 781.6,194.6 C780.6,194.3 779.5,194 778.5,193.7 C777.5,193.4 776.4,193 775.5,192.7 C774.7,192.3 773.9,191.8 773.4,191.4 C772.9,191 772.6,190.5 772.3,190.1 C772,189.7 771.9,189.3 771.7,188.8 C771.5,188.4 771.3,188 771.1,187.6 C770.8,187.1 770.5,186.5 770.3,186 C770.1,185.5 769.9,184.9 770.1,184.5 C770.2,184 770.5,183.7 771.1,183.4 C771.6,183.1 772.4,182.9 773.2,182.7 C774,182.5 774.9,182.5 775.7,182.4 C776.6,182.2 777.3,182.1 778.1,182 C778.9,181.9 779.7,181.7 780.6,181.6 C781.5,181.5 782.4,181.4 783.5,181.4 C784.6,181.4 785.8,181.5 787.1,181.7 C788.4,182 789.9,182.3 791.2,182.6 C792.5,183 793.8,183.4 795,183.7 C796.1,184 797.1,184.3 798.2,184.5 C799.2,184.8 800.3,185.1 801.4,185.4 C802.5,185.7 803.6,186 804.5,186.3 C805.4,186.7 806.3,187.1 806.9,187.5 C807.5,188 807.9,188.4 808.2,188.9 C808.5,189.3 808.6,189.7 808.8,190.2 C809,190.6 809.2,191 809.3,191.5 C809.5,192 809.8,192.5 809.9,193Z" fill="#efefef"/>
<path d="M808,208.4 C807.8,208.8 807.5,209.3 807.2,209.7 C806.8,210.1 806.4,210.4 806,210.7 C805.5,211 805,211.2 804.4,211.4 C803.8,211.6 803.1,211.8 802.4,211.9 C801.6,212.1 800.8,212.2 799.9,212.2 C799,212.3 798.1,212.3 797.1,212.2 C796.1,212.2 795,212.1 793.9,212 C792.7,211.9 791.6,211.7 790.3,211.5 C789,211.2 787.4,210.9 786,210.5 C784.6,210.1 783,209.7 781.7,209.2 C780.5,208.8 779.3,208.4 778.3,207.9 C777.3,207.4 776.3,207 775.5,206.5 C774.6,206 773.9,205.5 773.2,205 C772.6,204.5 772,204 771.5,203.6 C770.9,203.1 770.5,202.6 770,202.1 C769.6,201.7 769.2,201.2 768.9,200.7 C768.5,200.2 768.2,199.7 768,199.2 C767.8,198.7 767.6,198.1 767.6,197.5 C767.5,197 767.6,196.4 767.8,195.9 C767.9,195.5 768.2,195.1 768.7,194.7 C769.1,194.4 769.7,194.1 770.4,193.9 C771.1,193.7 772,193.6 772.9,193.6 C773.8,193.5 774.8,193.5 775.9,193.6 C776.9,193.7 778,193.8 779.1,193.9 C780.2,194.1 781.3,194.3 782.4,194.5 C783.6,194.7 784.7,194.9 785.9,195.1 C787.1,195.4 788.5,195.7 789.9,196 C791.2,196.4 792.7,196.7 793.9,197.1 C795.2,197.4 796.4,197.8 797.5,198.2 C798.7,198.6 799.8,199 800.8,199.5 C801.8,199.9 802.8,200.4 803.6,200.9 C804.4,201.4 805.2,201.9 805.8,202.4 C806.4,202.9 807,203.4 807.4,203.9 C807.8,204.4 808,204.9 808.2,205.4 C808.4,205.9 808.4,206.4 808.4,206.9 C808.3,207.4 808.2,207.9 808,208.4Z" fill="#efefef"/>
<path d="M808.3,227.5 C808.3,228.1 808.2,228.7 808,229.1 C807.9,229.6 807.6,230.1 807.2,230.4 C806.7,230.8 806.1,231.1 805.4,231.4 C804.6,231.6 803.7,231.7 802.8,231.8 C801.8,231.9 800.8,231.9 799.8,232 C798.8,232 797.8,232.1 796.8,232.1 C795.7,232.1 794.7,232.2 793.6,232.2 C792.4,232.1 791.2,232.1 789.8,232 C788.5,231.8 786.8,231.5 785.3,231.2 C783.8,230.8 782.2,230.3 780.9,229.9 C779.6,229.5 778.6,229 777.6,228.5 C776.6,228.1 775.7,227.6 774.8,227.2 C773.9,226.7 773,226.4 772.1,225.9 C771.2,225.5 770.2,225.1 769.4,224.6 C768.5,224.2 767.6,223.7 767,223.2 C766.3,222.7 765.8,222.1 765.4,221.6 C765,221.1 764.9,220.5 764.7,220 C764.6,219.4 764.7,218.8 764.8,218.3 C764.9,217.7 765.1,217.1 765.4,216.7 C765.7,216.2 766.2,215.8 766.8,215.5 C767.4,215.2 768.2,215 769,214.8 C769.9,214.7 770.9,214.6 771.9,214.5 C772.9,214.5 773.9,214.5 774.8,214.5 C775.8,214.4 776.7,214.4 777.7,214.3 C778.6,214.2 779.5,214.1 780.6,214.1 C781.7,214 782.8,213.9 784.2,214 C785.5,214.1 787.2,214.4 788.8,214.6 C790.3,214.9 792,215.4 793.4,215.8 C794.7,216.2 795.8,216.7 796.9,217.2 C798,217.7 798.8,218.2 799.7,218.6 C800.7,219.1 801.5,219.5 802.3,220 C803.1,220.5 804,220.9 804.7,221.4 C805.4,221.9 806.1,222.4 806.6,222.8 C807.1,223.3 807.5,223.9 807.7,224.4 C808,224.9 808.1,225.3 808.2,225.9 C808.3,226.4 808.3,227 808.3,227.5Z" fill="#efefef"/>
<path d="M525.3,198.7 C525.4,199.1 525.6,199.6 525.7,200 C525.8,200.5 526,200.9 525.9,201.3 C525.9,201.7 525.7,202.2 525.3,202.6 C525,203 524.4,203.4 523.9,203.8 C523.3,204.1 522.6,204.4 521.9,204.7 C521.3,205 520.6,205.2 520,205.5 C519.4,205.8 518.8,206.1 518.1,206.4 C517.5,206.7 516.8,207 516,207.3 C515.2,207.6 514.2,207.9 513.2,208 C512.3,208.2 511.2,208.3 510.4,208.4 C509.5,208.5 508.7,208.4 508,208.4 C507.2,208.4 506.5,208.3 505.8,208.3 C505,208.3 504.3,208.3 503.6,208.2 C502.9,208.1 502.1,208 501.5,207.8 C501,207.6 500.4,207.4 500.1,207 C499.8,206.7 499.6,206.3 499.5,205.9 C499.4,205.5 499.5,205 499.4,204.6 C499.4,204.1 499.4,203.7 499.2,203.3 C499.1,202.8 498.8,202.4 498.7,202 C498.5,201.5 498.3,201.1 498.3,200.7 C498.2,200.3 498.3,199.8 498.6,199.4 C498.8,199 499.3,198.5 499.9,198.2 C500.4,197.8 501.1,197.5 501.7,197.2 C502.4,196.9 503.1,196.6 503.7,196.3 C504.4,196 505,195.7 505.7,195.4 C506.4,195.2 507.1,194.8 507.9,194.6 C508.8,194.4 509.8,194.1 510.8,194 C511.7,193.9 512.7,193.8 513.6,193.8 C514.4,193.8 515.2,193.8 515.9,193.9 C516.6,193.9 517.3,193.9 518,194 C518.7,194 519.5,194 520.2,194 C520.9,194.1 521.7,194.1 522.3,194.3 C523,194.4 523.6,194.6 524,194.9 C524.4,195.2 524.6,195.6 524.8,196 C525,196.4 525,196.8 525,197.3 C525.1,197.7 525.2,198.2 525.3,198.7Z" fill="#efefef"/>
<path d="M625.6,208.8 C625.3,209.3 624.9,209.8 624.4,210.2 C624,210.6 623.5,210.9 622.9,211.2 C622.3,211.4 621.7,211.6 621,211.8 C620.3,212 619.6,212.1 618.8,212.2 C618,212.2 617.1,212.2 616.1,212.2 C615.2,212.1 614.1,212 613.1,211.8 C612,211.6 610.8,211.3 609.7,211 C608.5,210.7 607.3,210.3 606,209.9 C604.7,209.4 603.2,208.8 601.9,208.3 C600.5,207.7 599,207.1 597.8,206.5 C596.5,206 595.4,205.4 594.3,204.8 C593.2,204.3 592.1,203.7 591.1,203.1 C590.2,202.5 589.2,201.8 588.4,201.2 C587.6,200.6 586.9,199.9 586.3,199.3 C585.7,198.6 585.3,198 585,197.4 C584.7,196.8 584.5,196.2 584.5,195.7 C584.4,195.1 584.5,194.6 584.6,194.1 C584.8,193.6 585,193 585.3,192.6 C585.6,192.1 586,191.6 586.3,191.2 C586.7,190.8 587.1,190.4 587.5,190.1 C587.9,189.7 588.4,189.4 589,189.2 C589.5,188.9 590.1,188.7 590.9,188.5 C591.6,188.4 592.5,188.3 593.4,188.3 C594.4,188.4 595.4,188.5 596.6,188.7 C597.7,188.9 598.9,189.2 600.1,189.6 C601.4,189.9 602.6,190.4 604,190.9 C605.3,191.5 606.8,192.1 608.1,192.7 C609.5,193.4 610.8,194 612,194.6 C613.2,195.2 614.2,195.8 615.3,196.3 C616.3,196.9 617.3,197.5 618.2,198.1 C619.2,198.6 620.1,199.2 620.9,199.8 C621.8,200.4 622.6,201.1 623.3,201.7 C624,202.3 624.6,203 625,203.6 C625.5,204.2 625.8,204.9 626,205.4 C626.2,206 626.3,206.6 626.2,207.2 C626.2,207.7 625.9,208.3 625.6,208.8Z" fill="#efefef"/>
<path d="M672.5,198.8 C672.5,199.3 672.4,199.7 672.3,200.2 C672.2,200.6 672,201 671.7,201.4 C671.3,201.7 670.9,202.1 670.3,202.5 C669.6,202.8 668.9,203.1 668,203.4 C667.2,203.7 666.1,204 665.1,204.3 C664.1,204.5 663,204.7 661.9,204.9 C660.8,205.1 659.7,205.3 658.6,205.5 C657.4,205.7 656.2,205.9 654.9,206.1 C653.5,206.3 651.9,206.5 650.3,206.6 C648.8,206.7 647.1,206.8 645.7,206.8 C644.2,206.8 642.9,206.8 641.7,206.7 C640.5,206.6 639.4,206.5 638.3,206.3 C637.3,206.2 636.3,206 635.4,205.8 C634.4,205.7 633.5,205.5 632.7,205.2 C631.9,205 631.1,204.8 630.5,204.5 C629.8,204.2 629.3,203.9 628.9,203.6 C628.5,203.2 628.2,202.9 628,202.5 C627.9,202.1 627.8,201.6 627.8,201.2 C627.8,200.7 627.8,200.3 627.9,199.8 C628,199.4 628.2,199 628.5,198.7 C628.8,198.3 629.2,197.9 629.8,197.5 C630.3,197.2 631.1,196.8 631.9,196.5 C632.7,196.2 633.7,196 634.7,195.7 C635.8,195.5 636.8,195.2 637.9,195 C639,194.8 640.2,194.6 641.3,194.4 C642.5,194.2 643.7,194 645.1,193.8 C646.5,193.7 648.1,193.5 649.7,193.4 C651.2,193.3 652.9,193.2 654.3,193.2 C655.8,193.2 657,193.3 658.2,193.4 C659.4,193.5 660.5,193.6 661.5,193.7 C662.6,193.9 663.5,194.1 664.5,194.2 C665.4,194.4 666.3,194.6 667.2,194.8 C668,195 668.8,195.2 669.5,195.5 C670.2,195.8 670.8,196.1 671.2,196.4 C671.7,196.8 671.9,197.1 672.2,197.5 C672.4,197.9 672.4,198.4 672.5,198.8Z" fill="#efefef"/>
<path d="M677,213.3 C677,213.8 676.9,214.3 676.7,214.7 C676.4,215.1 676.1,215.5 675.7,215.8 C675.3,216.2 674.9,216.6 674.3,216.9 C673.7,217.3 673.1,217.6 672.3,217.9 C671.6,218.2 670.8,218.5 669.9,218.8 C669.1,219.1 668.1,219.4 667.1,219.6 C666.1,219.9 664.9,220.1 663.7,220.3 C662.5,220.5 661.3,220.6 659.9,220.8 C658.5,220.9 656.8,221 655.3,221 C653.8,221.1 652.3,221.1 650.9,221.1 C649.6,221 648.4,221 647.2,220.9 C646.1,220.8 645,220.8 643.9,220.7 C642.8,220.6 641.7,220.5 640.7,220.3 C639.7,220.2 638.7,220 637.8,219.8 C636.9,219.6 636.1,219.4 635.4,219.1 C634.8,218.8 634.2,218.5 633.8,218.1 C633.4,217.8 633.2,217.4 633.1,217 C632.9,216.6 632.9,216.1 633,215.7 C633.1,215.2 633.3,214.7 633.5,214.3 C633.8,213.9 634.1,213.5 634.5,213.2 C634.9,212.8 635.4,212.4 636,212.1 C636.5,211.8 637.2,211.4 637.8,211.1 C638.5,210.8 639.3,210.5 640.1,210.2 C641,209.9 641.9,209.6 642.9,209.4 C643.9,209.1 645,208.9 646.2,208.7 C647.4,208.5 648.6,208.3 650.1,208.2 C651.5,208 653.1,207.9 654.7,207.9 C656.2,207.8 657.8,207.8 659.1,207.9 C660.5,207.9 661.6,208 662.8,208.1 C664,208.1 665,208.2 666.1,208.4 C667.2,208.5 668.2,208.6 669.2,208.7 C670.2,208.9 671.1,209.1 672,209.3 C672.8,209.5 673.7,209.7 674.3,210 C675,210.3 675.5,210.6 676,210.9 C676.4,211.2 676.7,211.6 676.8,212 C677,212.4 677.1,212.9 677,213.3Z" fill="#efefef"/>
<path d="M624.4,249.2 C623.8,249.4 623.2,249.5 622.6,249.5 C622,249.5 621.5,249.5 620.9,249.4 C620.3,249.3 619.8,249.2 619.2,249.1 C618.6,248.9 617.9,248.8 617.3,248.5 C616.6,248.2 615.9,247.9 615.2,247.4 C614.5,246.9 613.7,246.3 612.9,245.6 C612.1,244.8 611.2,243.9 610.4,242.9 C609.6,242 608.8,240.8 608,239.6 C607.2,238.4 606.4,236.9 605.7,235.6 C604.9,234.3 604.2,232.8 603.7,231.6 C603.1,230.4 602.7,229.4 602.3,228.3 C601.9,227.3 601.5,226.3 601.2,225.3 C600.8,224.4 600.5,223.4 600.2,222.5 C599.9,221.5 599.6,220.6 599.4,219.7 C599.1,218.7 598.9,217.8 598.9,217 C598.8,216.1 598.7,215.3 598.8,214.6 C598.9,213.9 599.1,213.3 599.5,212.8 C599.8,212.3 600.3,211.9 600.9,211.6 C601.4,211.4 602.1,211.2 602.7,211.3 C603.4,211.3 604,211.4 604.7,211.6 C605.3,211.8 606,212.2 606.7,212.5 C607.4,212.8 608.1,213.3 608.8,213.7 C609.5,214.2 610.2,214.7 610.9,215.3 C611.6,215.9 612.4,216.5 613.1,217.3 C613.9,218 614.6,218.9 615.4,219.8 C616.2,220.7 616.9,221.7 617.7,222.8 C618.5,223.9 619.4,225.3 620.2,226.5 C621,227.8 621.8,229.2 622.4,230.4 C623.1,231.6 623.7,232.7 624.2,233.8 C624.7,234.9 625.2,236 625.6,237 C626,238.1 626.4,239.1 626.7,240.1 C627,241.1 627.2,242.1 627.3,242.9 C627.5,243.8 627.5,244.6 627.5,245.4 C627.4,246.1 627.3,246.7 627,247.2 C626.8,247.8 626.4,248.2 626,248.5 C625.5,248.8 625,249.1 624.4,249.2Z" fill="#efefef"/>
<path d="M666.7,244.1 C666.4,244.7 666,245.3 665.5,245.8 C665,246.3 664.5,246.6 663.8,246.9 C663.2,247.2 662.5,247.5 661.7,247.6 C661,247.8 660.1,247.9 659.2,248 C658.3,248 657.3,248 656.2,247.8 C655.1,247.7 654,247.5 652.8,247.3 C651.7,247 650.5,246.7 649.2,246.3 C647.9,246 646.7,245.5 645.3,245 C643.9,244.5 642.2,243.8 640.7,243.1 C639.2,242.5 637.6,241.7 636.3,241 C634.9,240.3 633.7,239.5 632.6,238.8 C631.5,238.1 630.5,237.3 629.5,236.6 C628.6,235.8 627.8,235.1 627.1,234.3 C626.4,233.6 625.8,232.8 625.3,232.1 C624.8,231.4 624.3,230.7 624,230 C623.7,229.3 623.4,228.6 623.2,227.9 C623,227.3 622.9,226.6 623,225.9 C623,225.3 623.2,224.6 623.4,223.9 C623.6,223.3 624,222.6 624.4,222.1 C624.8,221.6 625.3,221.2 625.8,220.9 C626.4,220.5 627.1,220.2 627.9,220 C628.6,219.8 629.5,219.7 630.5,219.7 C631.4,219.7 632.5,219.8 633.6,219.9 C634.7,220.1 635.9,220.3 637.1,220.6 C638.3,220.9 639.6,221.3 640.8,221.7 C642.1,222.2 643.4,222.6 644.7,223.2 C646.1,223.8 647.7,224.4 649.2,225.1 C650.6,225.8 652.2,226.5 653.5,227.2 C654.8,227.9 656,228.6 657.2,229.3 C658.3,230 659.4,230.7 660.4,231.4 C661.3,232.2 662.2,232.9 663,233.7 C663.8,234.4 664.5,235.2 665.1,235.9 C665.7,236.7 666.1,237.4 666.5,238.1 C666.9,238.8 667.2,239.5 667.3,240.2 C667.5,240.9 667.5,241.5 667.4,242.2 C667.3,242.8 667.1,243.5 666.7,244.1Z" fill="#efefef"/>
<path d="M672.6,254.4 C672.8,255 672.9,255.6 672.7,256.1 C672.5,256.7 671.9,257.2 671.3,257.6 C670.7,258.1 669.8,258.5 669,258.9 C668.2,259.3 667.4,259.7 666.7,260.1 C665.9,260.5 665.2,260.9 664.4,261.3 C663.6,261.7 662.8,262.1 661.8,262.4 C660.8,262.8 659.6,263.1 658.4,263.3 C657.2,263.6 655.8,263.8 654.4,264 C652.9,264.2 651.3,264.3 649.7,264.5 C648.1,264.6 646.5,264.8 645,264.9 C643.5,265 642,265.1 640.7,265.2 C639.3,265.2 637.9,265.2 636.7,265 C635.6,264.9 634.6,264.6 633.8,264.3 C633,264 632.5,263.6 632.1,263.2 C631.6,262.8 631.4,262.4 631,262 C630.6,261.6 630.1,261.3 629.5,261 C628.9,260.6 628.1,260.4 627.4,260 C626.7,259.6 625.8,259.1 625.4,258.6 C624.9,258.1 624.6,257.4 624.6,256.9 C624.7,256.3 625.1,255.8 625.7,255.3 C626.2,254.8 627.1,254.4 627.9,253.9 C628.7,253.5 629.7,253.1 630.5,252.7 C631.4,252.3 632.3,252 633.2,251.6 C634.2,251.3 635.2,250.9 636.3,250.6 C637.4,250.3 638.6,250.1 639.9,249.9 C641.1,249.6 642.5,249.5 643.9,249.4 C645.3,249.2 646.8,249.1 648.3,248.9 C649.8,248.8 651.4,248.6 652.9,248.5 C654.3,248.3 655.7,248.1 657.2,248 C658.6,247.9 660,247.9 661.3,247.9 C662.5,248 663.7,248.2 664.6,248.5 C665.5,248.7 666.2,249.1 666.7,249.5 C667.3,249.9 667.6,250.3 668,250.7 C668.5,251.1 668.9,251.5 669.4,251.8 C669.9,252.2 670.6,252.5 671.1,253 C671.6,253.4 672.3,253.9 672.6,254.4Z" fill="#efefef"/>
<path d="M720.1,201.7 C720,202.2 719.9,202.8 719.7,203.3 C719.6,203.8 719.5,204.2 719.2,204.7 C719,205.1 718.8,205.6 718.3,206 C717.9,206.5 717.2,206.9 716.5,207.3 C715.8,207.7 714.8,208.1 713.9,208.4 C713,208.7 711.9,209 710.9,209.3 C709.9,209.6 709,209.8 708,210.1 C707,210.4 706.1,210.8 704.9,211.1 C703.8,211.4 702.4,211.8 701.1,212 C699.7,212.3 698.2,212.6 696.9,212.7 C695.6,212.8 694.4,212.8 693.3,212.8 C692.2,212.8 691.2,212.7 690.3,212.6 C689.3,212.5 688.4,212.3 687.6,212.2 C686.7,212 685.8,211.9 685,211.7 C684.2,211.5 683.3,211.3 682.7,211.1 C682.1,210.8 681.6,210.4 681.3,210 C681,209.7 680.9,209.2 680.9,208.7 C680.9,208.2 681.1,207.7 681.2,207.1 C681.3,206.6 681.4,206.1 681.5,205.7 C681.5,205.2 681.5,204.8 681.5,204.3 C681.6,203.9 681.6,203.4 681.9,203 C682.1,202.5 682.5,202 683.1,201.6 C683.7,201.2 684.5,200.8 685.4,200.4 C686.3,200 687.3,199.7 688.4,199.4 C689.4,199.1 690.4,198.8 691.5,198.5 C692.6,198.2 693.6,197.9 694.9,197.7 C696.1,197.4 697.6,197.1 698.9,196.9 C700.3,196.7 701.8,196.5 703,196.5 C704.3,196.4 705.4,196.5 706.4,196.6 C707.4,196.6 708.2,196.8 709.1,196.9 C710,197 710.8,197.2 711.7,197.3 C712.6,197.4 713.5,197.4 714.4,197.6 C715.3,197.7 716.3,197.8 717.1,198 C717.9,198.2 718.6,198.5 719.1,198.8 C719.6,199.2 719.9,199.6 720,200.1 C720.2,200.6 720.1,201.2 720.1,201.7Z" fill="#efefef"/>
<path d="M694.1,216.3 C694.5,216.8 694.7,217.5 694.9,218.1 C695.1,218.8 695.1,219.4 695.2,220.1 C695.3,220.7 695.4,221.2 695.5,221.8 C695.6,222.4 695.8,222.9 695.8,223.5 C695.9,224.2 695.9,224.9 695.8,225.6 C695.6,226.4 695.3,227.2 695,228.1 C694.6,229 694.1,229.9 693.6,230.8 C693.1,231.7 692.5,232.5 692,233.4 C691.4,234.4 690.8,235.4 690.1,236.5 C689.5,237.5 688.8,238.7 688.1,239.6 C687.5,240.6 686.8,241.6 686.1,242.4 C685.4,243.2 684.7,243.9 683.9,244.5 C683.2,245 682.5,245.4 681.8,245.7 C681.1,246 680.5,246.2 679.9,246.4 C679.3,246.6 678.7,246.7 678.1,246.9 C677.5,247 676.8,247.2 676.3,247.2 C675.7,247.3 675.1,247.3 674.6,247.1 C674.1,246.9 673.6,246.6 673.2,246.2 C672.8,245.8 672.5,245.2 672.2,244.7 C671.9,244.2 671.7,243.7 671.5,243.2 C671.2,242.8 671,242.4 670.7,241.9 C670.5,241.4 670.2,240.9 670,240.3 C669.9,239.7 669.8,239 670,238.2 C670.1,237.4 670.4,236.4 670.9,235.5 C671.3,234.6 671.9,233.6 672.6,232.7 C673.2,231.7 673.9,230.9 674.6,229.9 C675.2,229 676,228 676.7,227.1 C677.4,226.1 678.1,225.1 678.7,224.2 C679.4,223.3 680,222.5 680.7,221.7 C681.3,221 682,220.3 682.7,219.7 C683.4,219.1 684.1,218.7 684.7,218.3 C685.4,217.8 686,217.5 686.7,217.1 C687.3,216.8 688,216.4 688.7,216.1 C689.4,215.8 690.1,215.4 690.7,215.3 C691.4,215.1 692,215 692.6,215.2 C693.2,215.4 693.7,215.8 694.1,216.3Z" fill="#efefef"/>
<ellipse cx="531.5" cy="157" rx="3.7" ry="2.3" transform="rotate(-20 531.5 157)" fill="#4e4e4e"/>
<ellipse cx="527.5" cy="176.5" rx="3.7" ry="2.3" transform="rotate(-8 527.5 176.5)" fill="#4e4e4e"/>
<ellipse cx="552.4" cy="188.5" rx="3.7" ry="2.3" transform="rotate(-2 552.4 188.5)" fill="#4e4e4e"/>
<ellipse cx="616.6" cy="185.8" rx="3.7" ry="2.3" transform="rotate(10 616.6 185.8)" fill="#4e4e4e"/>
<ellipse cx="668.3" cy="180.6" rx="3.7" ry="2.3" transform="rotate(-10 668.3 180.6)" fill="#4e4e4e"/>
<ellipse cx="713.9" cy="162.5" rx="3.7" ry="2.3" transform="rotate(-25 713.9 162.5)" fill="#4e4e4e"/>
<ellipse cx="757" cy="166.8" rx="3.7" ry="2.3" transform="rotate(15 757 166.8)" fill="#4e4e4e"/>
<ellipse cx="802.6" cy="176.6" rx="3.7" ry="2.3" transform="rotate(10 802.6 176.6)" fill="#4e4e4e"/>
<ellipse cx="697.8" cy="188" rx="3.7" ry="2.3" transform="rotate(-8 697.8 188)" fill="#4e4e4e"/>
<ellipse cx="746" cy="198" rx="3.7" ry="2.3" transform="rotate(25 746 198)" fill="#4e4e4e"/>
<ellipse cx="792.9" cy="189.6" rx="3.7" ry="2.3" transform="rotate(10 792.9 189.6)" fill="#4e4e4e"/>
<ellipse cx="788.5" cy="204.9" rx="3.7" ry="2.3" transform="rotate(15 788.5 204.9)" fill="#4e4e4e"/>
<ellipse cx="787.4" cy="221.1" rx="3.7" ry="2.3" transform="rotate(12 787.4 221.1)" fill="#4e4e4e"/>
<ellipse cx="507.5" cy="202" rx="3.7" ry="2.3" transform="rotate(-10 507.5 202)" fill="#4e4e4e"/>
<ellipse cx="604" cy="200.6" rx="3.7" ry="2.3" transform="rotate(22 604 200.6)" fill="#4e4e4e"/>
<ellipse cx="648.3" cy="200.6" rx="3.7" ry="2.3" transform="rotate(-3 648.3 200.6)" fill="#4e4e4e"/>
<ellipse cx="653.8" cy="213.8" rx="3.7" ry="2.3" transform="rotate(-3 653.8 213.8)" fill="#4e4e4e"/>
<ellipse cx="613.8" cy="231" rx="3.7" ry="2.3" transform="rotate(58 613.8 231)" fill="#4e4e4e"/>
<ellipse cx="640" cy="239" rx="3.7" ry="2.3" transform="rotate(25 640 239)" fill="#4e4e4e"/>
<ellipse cx="647.5" cy="257.2" rx="3.7" ry="2.3" transform="rotate(-5 647.5 257.2)" fill="#4e4e4e"/>
<ellipse cx="697.8" cy="204.3" rx="3.7" ry="2.3" transform="rotate(-8 697.8 204.3)" fill="#4e4e4e"/>
<ellipse cx="679.9" cy="231" rx="3.7" ry="2.3" transform="rotate(-55 679.9 231)" fill="#4e4e4e"/>
<path d="M577.3,201.6 C579.4,203.4 586.7,208.4 590.2,212.5 C593.7,216.6 596,221.6 598.5,226 C601,230.4 602.6,235.1 605,239 C607.4,242.9 609.7,246 613,249.5 C616.3,253 618.8,256.9 625,260 C631.2,263.1 642.2,267.6 650,268 C657.8,268.4 665.5,265.8 671.6,262.3 C677.7,258.8 681.4,253.5 686.8,247 C692.2,240.5 701.1,227.2 704,223.3" fill="none" stroke="#d4d4d4" stroke-width="9"/>
<path d="M505,332 L505,212.5  C508.8,210.3 519.1,202.2 527.5,199.5 C535.9,196.8 547.3,195.8 555.6,196.2 C563.9,196.5 571.5,198.9 577.3,201.6 C583.1,204.3 586.7,208.4 590.2,212.5 C593.7,216.6 596,221.6 598.5,226 C601,230.4 602.6,235.1 605,239 C607.4,242.9 609.7,246 613,249.5 C616.3,253 618.8,256.9 625,260 C631.2,263.1 642.2,267.6 650,268 C657.8,268.4 665.5,265.8 671.6,262.3 C677.7,258.8 681.4,253.5 686.8,247 C692.2,240.5 698.6,229.1 704,223.3 C709.4,217.6 713.9,215 719.3,212.5 C724.7,210 730.1,207.8 736.6,208.1 C743.1,208.4 751,211.3 758.2,214.6 C765.4,217.8 771.6,224.4 779.9,227.6 C788.2,230.8 803.3,232.9 808,234 L808,332 Z" fill="#969696"/>
<g clip-path="url(#cdb)" stroke="#7a7a7a" stroke-width="1.3" stroke-linecap="round">
<line x1="560" y1="210.3" x2="588" y2="237.4"/>
<line x1="532.9" y1="232" x2="556.7" y2="254.7"/>
<line x1="564" y1="259" x2="617" y2="298"/>
<line x1="591" y1="251" x2="524.5" y2="321"/>
<line x1="546.8" y1="266.3" x2="521.4" y2="288.6"/>
<line x1="529.6" y1="276.4" x2="557" y2="315"/>
<line x1="615" y1="272" x2="590.5" y2="315"/>
<line x1="647.4" y1="270.3" x2="635.2" y2="326.2"/>
<line x1="573.3" y1="287.6" x2="610.9" y2="324.2"/>
<line x1="623" y1="305" x2="652.5" y2="326.2"/>
<line x1="730.5" y1="220.5" x2="709.6" y2="244.5"/>
<line x1="722" y1="253.8" x2="660" y2="293"/>
<line x1="702.4" y1="252.7" x2="751" y2="318.8"/>
<line x1="667.2" y1="275.5" x2="678.6" y2="327"/>
<line x1="694" y1="277.5" x2="713.7" y2="325"/>
<line x1="751" y1="260" x2="691" y2="313.7"/>
<line x1="728.2" y1="243.4" x2="794.3" y2="314.7"/>
<line x1="761" y1="250.7" x2="799.5" y2="288.9"/>
<line x1="786" y1="253.8" x2="759" y2="301.3"/>
<line x1="773.6" y1="302.3" x2="746.8" y2="325"/>
<line x1="665" y1="288.6" x2="654.6" y2="297.8"/>
</g>
</g>
<path d="M505,117.5 C506.7,114 511.6,103.7 515,96.5 C518.4,89.3 521.8,81.4 525.3,74.5 C528.8,67.6 532.5,60.9 536,55 C539.5,49.1 543.2,42.8 546,39 C548.8,35.2 550.7,33.6 553,32 C555.3,30.4 556.7,30.2 560,29.5 C563.3,28.8 568.7,28.3 573,28 C577.3,27.7 582.3,26.9 586,27.8 C589.7,28.7 592.1,30.8 595,33.5 C597.9,36.2 600.7,40.7 603.2,43.8 C605.7,46.9 607.8,49.5 610,52 C612.2,54.5 613.7,56.5 616.2,58.5 C618.7,60.5 622.1,62.7 625,64 C627.9,65.3 630.7,65.9 633.5,66.3 C636.3,66.7 639.1,66.6 642,66.5 C644.9,66.4 647.8,66.1 650.8,65.5 C653.8,64.9 656.5,64.6 660,63 C663.5,61.4 667.9,58.1 671.6,55.7 C675.3,53.3 678.4,50.7 682,48.5 C685.6,46.3 689.6,44 693.3,42.7 C697,41.4 700.5,40.6 704.1,40.6 C707.7,40.6 711.4,41.9 715,42.7 C718.6,43.5 722.4,44.6 726,45.5 C729.6,46.4 732.6,47.2 736.6,48 C740.6,48.8 745.7,49.4 750,50 C754.3,50.6 760.5,51.2 762.6,51.4 L808,133.5 L808,133  C803.3,132.7 790.1,132.4 780,131 C769.9,129.6 757.2,126.8 747.4,124.6 C737.6,122.4 728.6,118.7 721.4,118 C714.2,117.3 710.5,117.8 704,120.3 C697.5,122.8 689,129.4 682.5,133.3 C676,137.2 671,140.7 665,144 C659,147.3 653.2,151.7 646.5,153.2 C639.8,154.7 632.2,154.7 625,152.8 C617.8,150.9 609.5,146.3 603,142 C596.5,137.7 592.2,132.2 586,126.8 C579.8,121.4 572.5,113.2 566,109.5 C559.5,105.8 553,105 547,104.5 C541,104 535.3,105.5 530,106.5 C524.7,107.5 519.2,108.7 515,110.5 C510.8,112.3 506.7,116.3 505,117.5 Z" fill="#d7d7d7"/>
<path d="M595.6,51.4 C594,54.8 589.2,64.8 586,72 C582.8,79.2 577.8,90.9 576.2,94.7" stroke="#a3a3a3" stroke-width="1.5" fill="none" stroke-linecap="round"/>
<path d="M613,66.5 C612.2,71.2 609.3,85.4 608,95 C606.7,104.6 605.8,119.2 605.4,124" stroke="#a3a3a3" stroke-width="1.5" fill="none" stroke-linecap="round"/>
<path d="M634.6,75 C634.8,80 635.5,96.7 635.5,105 C635.5,113.3 634.8,118.2 634.5,125 C634.2,131.8 633.7,142.5 633.5,146" stroke="#a3a3a3" stroke-width="1.5" fill="none" stroke-linecap="round"/>
<path d="M735.5,54.6 C737.8,57.7 745.2,66.1 749.5,73 C753.8,79.9 759.5,92 761.5,95.8" stroke="#a3a3a3" stroke-width="1.5" fill="none" stroke-linecap="round"/>
<path d="M658.7,72 C660.2,74.8 664.5,83.4 667.5,89 C670.5,94.6 675.4,102.8 677,105.5" stroke="#a3a3a3" stroke-width="1.5" fill="none" stroke-linecap="round"/>
<path d="M658.7,106.6 C659.1,108.3 660.5,113.4 661,117 C661.5,120.6 661.8,126.2 662,128" stroke="#a3a3a3" stroke-width="1.5" fill="none" stroke-linecap="round"/>
</svg>
<div class="cap" style="left:113px;top:347px">(a) 胶原蛋白充足的皮肤</div>
<div class="cap" style="left:551px;top:347px">(b) 缺乏胶原蛋白的皮肤</div>
<div class="t j" style="left:57px;top:382.5px;width:293.5px">皮肤表面纹理细致整齐，表皮细</div>
<div class="t j" style="left:17px;top:408.5px;width:336px">胞健康。真皮层内的胶原蛋白及弹力</div>
<div class="t j" style="left:17px;top:434.5px;width:338px">蛋白亦充满弹性，没有半点松弛、皱</div>
<div class="t" style="left:17px;top:460.5px">纹等迹象</div>
<div class="t j" style="left:507px;top:382.5px;width:300px">表皮干燥，真皮失去弹力。脸上</div>
<div class="t j" style="left:469px;top:408.5px;width:343.5px">的表情纹、干纹演变成细纹，甚至深</div>
<div class="t j" style="left:469px;top:434.5px;width:347px;letter-spacing:-0.5px">刻的皱纹。这在眼部、嘴角、眉头等处</div>
<div class="t" style="left:469px;top:460.5px">尤为明显</div>
<div class="wm" style="left:605px;top:470px">头条 @优质信息收集站</div>
</body></html>
